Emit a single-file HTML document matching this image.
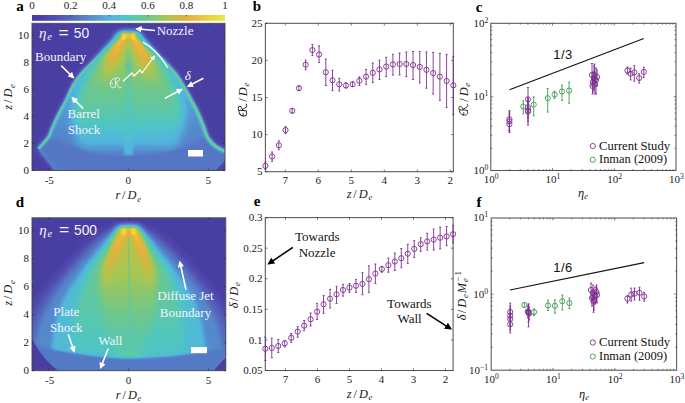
<!DOCTYPE html><html><head><meta charset="utf-8"><style>html,body{margin:0;padding:0;background:#fff;overflow:hidden}svg{display:block}</style></head><body>
<svg width="685" height="403" viewBox="0 0 685 403">
<defs>
<filter id="cm" x="0" y="0" width="1" height="1" color-interpolation-filters="sRGB"><feComponentTransfer><feFuncR type="table" tableValues="0.2784 0.2895 0.3005 0.3115 0.3186 0.3248 0.3309 0.3333 0.3333 0.3333 0.3319 0.3282 0.3245 0.3211 0.3186 0.3162 0.3137 0.3505 0.3873 0.4240 0.4902 0.5637 0.6373 0.7123 0.7882 0.8642 0.9113 0.9150 0.9186 0.9208 0.9172 0.9135 0.9098"/><feFuncG type="table" tableValues="0.2275 0.2483 0.2691 0.2900 0.3235 0.3603 0.3971 0.4375 0.4804 0.5233 0.5686 0.6176 0.6667 0.7108 0.7353 0.7598 0.7843 0.7843 0.7843 0.7843 0.7843 0.7843 0.7843 0.7659 0.7353 0.7047 0.7010 0.7377 0.7745 0.8113 0.8480 0.8848 0.9216"/><feFuncB type="table" tableValues="0.6196 0.6404 0.6613 0.6821 0.7010 0.7194 0.7377 0.7561 0.7745 0.7929 0.8137 0.8382 0.8627 0.8738 0.8309 0.7880 0.7451 0.6838 0.6225 0.5613 0.4902 0.4167 0.3431 0.2990 0.2745 0.2500 0.2353 0.2353 0.2353 0.2353 0.2353 0.2353 0.2353"/></feComponentTransfer></filter>
<filter id="b1" filterUnits="userSpaceOnUse" x="0" y="0" width="685" height="403"><feGaussianBlur stdDeviation="1"/></filter>
<filter id="b2" filterUnits="userSpaceOnUse" x="0" y="0" width="685" height="403"><feGaussianBlur stdDeviation="2"/></filter>
<filter id="b3" filterUnits="userSpaceOnUse" x="0" y="0" width="685" height="403"><feGaussianBlur stdDeviation="3"/></filter>
<filter id="b5" filterUnits="userSpaceOnUse" x="0" y="0" width="685" height="403"><feGaussianBlur stdDeviation="5"/></filter>
<linearGradient id="cbg" x1="0" x2="1" y1="0" y2="0"><stop offset="0" stop-color="#000"/><stop offset="1" stop-color="#fff"/></linearGradient>
<marker id="ah" viewBox="0 0 10 10" refX="8" refY="5" markerWidth="4" markerHeight="4" orient="auto"><path d="M0,0 L10,5 L0,10 z" fill="#fff"/></marker>
<marker id="ahk" viewBox="0 0 10 10" refX="8" refY="5" markerWidth="4.5" markerHeight="4.5" orient="auto"><path d="M0,0 L10,5 L0,10 z" fill="#000"/></marker>
<clipPath id="clipa"><rect x="32" y="23.3" width="193" height="147.2"/></clipPath>
<clipPath id="clipd"><rect x="32" y="217.8" width="193.8" height="153"/></clipPath>
</defs>
<text x="20.00" y="11.00" font-family='"Liberation Serif", serif' font-size="15" text-anchor="middle" fill="#000" font-style="normal" font-weight="bold" >a</text>
<text x="257.00" y="11.00" font-family='"Liberation Serif", serif' font-size="15" text-anchor="middle" fill="#000" font-style="normal" font-weight="bold" >b</text>
<text x="479.00" y="11.70" font-family='"Liberation Serif", serif' font-size="15" text-anchor="middle" fill="#000" font-style="normal" font-weight="bold" >c</text>
<text x="20.00" y="206.90" font-family='"Liberation Serif", serif' font-size="15" text-anchor="middle" fill="#000" font-style="normal" font-weight="bold" >d</text>
<text x="257.00" y="206.20" font-family='"Liberation Serif", serif' font-size="15" text-anchor="middle" fill="#000" font-style="normal" font-weight="bold" >e</text>
<text x="479.00" y="206.90" font-family='"Liberation Serif", serif' font-size="15" text-anchor="middle" fill="#000" font-style="normal" font-weight="bold" >f</text>
<g filter="url(#cm)"><rect x="32" y="15" width="193" height="5.8" fill="url(#cbg)"/></g>
<text x="32.00" y="9.00" font-family='"Liberation Serif", serif' font-size="11" text-anchor="middle" fill="#1a1a1a" font-style="normal" font-weight="normal" >0</text>
<text x="70.60" y="9.00" font-family='"Liberation Serif", serif' font-size="11" text-anchor="middle" fill="#1a1a1a" font-style="normal" font-weight="normal" >0.2</text>
<line x1="70.60" y1="15" x2="70.60" y2="16.5" stroke="#262626" stroke-width="0.6"/>
<text x="109.20" y="9.00" font-family='"Liberation Serif", serif' font-size="11" text-anchor="middle" fill="#1a1a1a" font-style="normal" font-weight="normal" >0.4</text>
<line x1="109.20" y1="15" x2="109.20" y2="16.5" stroke="#262626" stroke-width="0.6"/>
<text x="147.80" y="9.00" font-family='"Liberation Serif", serif' font-size="11" text-anchor="middle" fill="#1a1a1a" font-style="normal" font-weight="normal" >0.6</text>
<line x1="147.80" y1="15" x2="147.80" y2="16.5" stroke="#262626" stroke-width="0.6"/>
<text x="186.40" y="9.00" font-family='"Liberation Serif", serif' font-size="11" text-anchor="middle" fill="#1a1a1a" font-style="normal" font-weight="normal" >0.8</text>
<line x1="186.40" y1="15" x2="186.40" y2="16.5" stroke="#262626" stroke-width="0.6"/>
<text x="225.00" y="9.00" font-family='"Liberation Serif", serif' font-size="11" text-anchor="middle" fill="#1a1a1a" font-style="normal" font-weight="normal" >1</text>
<g clip-path="url(#clipa)"><g filter="url(#cm)">
<rect x="32" y="23.3" width="193" height="147.2" fill="#080808"/>
<path d="M38.50,148.50 C39.33,147.58 41.83,144.92 43.50,143.00 C45.17,141.08 47.08,139.38 48.50,137.00 C49.92,134.62 50.77,131.57 52.00,128.70 C53.23,125.83 54.42,122.93 55.90,119.80 C57.38,116.67 59.17,113.22 60.90,109.90 C62.63,106.58 64.65,103.22 66.30,99.90 C67.95,96.58 69.10,93.32 70.80,90.00 C72.50,86.68 74.63,82.83 76.50,80.00 C78.37,77.17 79.83,75.42 82.00,73.00 C84.17,70.58 87.00,68.00 89.50,65.50 C92.00,63.00 93.83,61.17 97.00,58.00 C100.17,54.83 104.55,50.50 108.50,46.50 C112.45,42.50 118.67,36.08 120.70,34.00 L136.6,34C138.58,36.08 144.60,42.50 148.50,46.50 C152.40,50.50 156.83,54.83 160.00,58.00 C163.17,61.17 165.08,63.00 167.50,65.50 C169.92,68.00 172.50,70.58 174.50,73.00 C176.50,75.42 177.67,77.17 179.50,80.00 C181.33,82.83 183.60,86.68 185.50,90.00 C187.40,93.32 189.08,96.58 190.90,99.90 C192.72,103.22 194.75,106.58 196.40,109.90 C198.05,113.22 199.48,116.67 200.80,119.80 C202.12,122.93 203.27,125.92 204.30,128.70 C205.33,131.48 205.88,134.28 207.00,136.50 C208.12,138.72 209.50,140.33 211.00,142.00 C212.50,143.67 214.33,145.25 216.00,146.50 C217.67,147.75 219.33,148.67 221.00,149.50 C222.67,150.33 225.17,151.17 226.00,151.50 L228,151.5 L228,157 L210,175 L59,175 Z" fill="none" stroke="#1e1e1e" stroke-width="7" filter="url(#b2)"/>
<ellipse cx="128.7" cy="34" rx="15" ry="5" fill="#333333" filter="url(#b2)"/>
<linearGradient id="jg" gradientUnits="userSpaceOnUse" x1="0" y1="34" x2="0" y2="160"><stop offset="0" stop-color="#6b6b6b"/><stop offset="0.37" stop-color="#606060"/><stop offset="0.65" stop-color="#515151"/><stop offset="0.84" stop-color="#474747"/><stop offset="1" stop-color="#424242"/></linearGradient>
<path d="M38.50,148.50 C39.33,147.58 41.83,144.92 43.50,143.00 C45.17,141.08 47.08,139.38 48.50,137.00 C49.92,134.62 50.77,131.57 52.00,128.70 C53.23,125.83 54.42,122.93 55.90,119.80 C57.38,116.67 59.17,113.22 60.90,109.90 C62.63,106.58 64.65,103.22 66.30,99.90 C67.95,96.58 69.10,93.32 70.80,90.00 C72.50,86.68 74.63,82.83 76.50,80.00 C78.37,77.17 79.83,75.42 82.00,73.00 C84.17,70.58 87.00,68.00 89.50,65.50 C92.00,63.00 93.83,61.17 97.00,58.00 C100.17,54.83 104.55,50.50 108.50,46.50 C112.45,42.50 118.67,36.08 120.70,34.00 L136.6,34C138.58,36.08 144.60,42.50 148.50,46.50 C152.40,50.50 156.83,54.83 160.00,58.00 C163.17,61.17 165.08,63.00 167.50,65.50 C169.92,68.00 172.50,70.58 174.50,73.00 C176.50,75.42 177.67,77.17 179.50,80.00 C181.33,82.83 183.60,86.68 185.50,90.00 C187.40,93.32 189.08,96.58 190.90,99.90 C192.72,103.22 194.75,106.58 196.40,109.90 C198.05,113.22 199.48,116.67 200.80,119.80 C202.12,122.93 203.27,125.92 204.30,128.70 C205.33,131.48 205.88,134.28 207.00,136.50 C208.12,138.72 209.50,140.33 211.00,142.00 C212.50,143.67 214.33,145.25 216.00,146.50 C217.67,147.75 219.33,148.67 221.00,149.50 C222.67,150.33 225.17,151.17 226.00,151.50 L228,151.5 L228,157 L210,175 L59,175 Z" fill="url(#jg)"/>
<linearGradient id="cg" gradientUnits="userSpaceOnUse" x1="0" y1="34" x2="0" y2="150"><stop offset="0" stop-color="#bcbcbc"/><stop offset="0.22" stop-color="#a8a8a8"/><stop offset="0.48" stop-color="#999999"/><stop offset="0.66" stop-color="#8c8c8c"/><stop offset="0.83" stop-color="#757575"/><stop offset="1" stop-color="#606060"/></linearGradient>
<path d="M80.00,148.00 C79.17,145.00 76.17,135.50 75.00,130.00 C73.83,124.50 72.83,120.00 73.00,115.00 C73.17,110.00 74.50,104.83 76.00,100.00 C77.50,95.17 79.67,90.67 82.00,86.00 C84.33,81.33 86.83,76.67 90.00,72.00 C93.17,67.33 97.33,62.33 101.00,58.00 C104.67,53.67 108.50,49.83 112.00,46.00 C115.50,42.17 120.33,36.83 122.00,35.00 L135,35C136.67,36.83 141.50,42.17 145.00,46.00 C148.50,49.83 152.33,53.67 156.00,58.00 C159.67,62.33 163.83,67.33 167.00,72.00 C170.17,76.67 172.67,81.33 175.00,86.00 C177.33,90.67 179.50,95.17 181.00,100.00 C182.50,104.83 183.83,110.00 184.00,115.00 C184.17,120.00 183.17,124.50 182.00,130.00 C180.83,135.50 177.83,145.00 177.00,148.00 Z" fill="url(#cg)" filter="url(#b5)"/>
<linearGradient id="wg" gradientUnits="userSpaceOnUse" x1="0" y1="34" x2="0" y2="92"><stop offset="0" stop-color="#bcbcbc"/><stop offset="0.45" stop-color="#b2b2b2"/><stop offset="1" stop-color="#9e9e9e" stop-opacity="0"/></linearGradient>
<path d="M121,34 L136,34 L152,52 L161,75 L157,92 L100,92 L96,75 L105,52 Z" fill="url(#wg)" filter="url(#b3)"/>
<linearGradient id="lg" gradientUnits="userSpaceOnUse" x1="0" y1="34" x2="0" y2="85"><stop offset="0" stop-color="#e5e5e5"/><stop offset="0.35" stop-color="#d3d3d3"/><stop offset="1" stop-color="#bcbcbc" stop-opacity="0"/></linearGradient>
<path d="M121,34 L126,34 L119,55 L111,85 L101,85 L109,55 Z" fill="url(#lg)" filter="url(#b2)"/>
<path d="M131,34 L136,34 L148,55 L156,85 L146,85 L138,55 Z" fill="url(#lg)" filter="url(#b2)"/>
<linearGradient id="gw" gradientUnits="userSpaceOnUse" x1="0" y1="40" x2="0" y2="70"><stop offset="0" stop-color="#bcbcbc" stop-opacity="0"/><stop offset="0.3" stop-color="#a8a8a8"/><stop offset="1" stop-color="#919191"/></linearGradient>
<path d="M127.2,40 L130.2,40 L133,70 L124.4,70 Z" fill="url(#gw)" filter="url(#b1)"/>
<rect x="122" y="34" width="13.5" height="5" fill="#d6d6d6" filter="url(#b1)"/>
<path d="M121.2,33.6 L136.2,33.6 L136.2,35.5 L121.2,35.5 Z" fill="#dbdbdb"/>
<ellipse cx="123.8" cy="37" rx="2.3" ry="3.2" fill="#f7f7f7" filter="url(#b1)"/>
<ellipse cx="133.8" cy="37" rx="2.3" ry="3.2" fill="#f7f7f7" filter="url(#b1)"/>
<linearGradient id="sg" gradientUnits="userSpaceOnUse" x1="0" y1="62" x2="0" y2="156"><stop offset="0" stop-color="#8e8e8e"/><stop offset="0.25" stop-color="#878787"/><stop offset="1" stop-color="#727272"/></linearGradient>
<path d="M127,62 L130,62 L133,156 L124,156 Z" fill="url(#sg)" filter="url(#b1)" opacity="0.7"/>
<path d="M38.5,148.5 L43.5,143 L48.5,137 C60,141 80,150 100,155 C115,157 140,156 160,153 C180,150 195,144 207,136.5 L211,142 L216,146.5 L221,149.5 L228,151.5 L228,157 L210,175 L59,175 Z" fill="#3d3d3d" filter="url(#b1)"/>
<path d="M40,150 L58,172" stroke="#474747" stroke-width="3" filter="url(#b1)"/>
<path d="M120.70,34.00 C118.67,36.08 112.45,42.50 108.50,46.50 C104.55,50.50 100.17,54.83 97.00,58.00 C93.83,61.17 92.00,63.00 89.50,65.50 C87.00,68.00 84.17,70.58 82.00,73.00 C79.83,75.42 78.37,77.17 76.50,80.00 C74.63,82.83 72.50,86.68 70.80,90.00 C69.10,93.32 67.95,96.58 66.30,99.90 C64.65,103.22 62.63,106.58 60.90,109.90 C59.17,113.22 57.38,116.67 55.90,119.80 C54.42,122.93 53.23,125.83 52.00,128.70 C50.77,131.57 49.92,134.62 48.50,137.00 C47.08,139.38 45.17,141.08 43.50,143.00 C41.83,144.92 39.33,147.58 38.50,148.50" fill="none" stroke="#727272" stroke-width="3.2" filter="url(#b1)"/>
<path d="M136.60,34.00 C138.58,36.08 144.60,42.50 148.50,46.50 C152.40,50.50 156.83,54.83 160.00,58.00 C163.17,61.17 165.08,63.00 167.50,65.50 C169.92,68.00 172.50,70.58 174.50,73.00 C176.50,75.42 177.67,77.17 179.50,80.00 C181.33,82.83 183.60,86.68 185.50,90.00 C187.40,93.32 189.08,96.58 190.90,99.90 C192.72,103.22 194.75,106.58 196.40,109.90 C198.05,113.22 199.48,116.67 200.80,119.80 C202.12,122.93 203.27,125.92 204.30,128.70 C205.33,131.48 205.88,134.28 207.00,136.50 C208.12,138.72 209.50,140.33 211.00,142.00 C212.50,143.67 214.33,145.25 216.00,146.50 C217.67,147.75 219.33,148.67 221.00,149.50 C222.67,150.33 225.17,151.17 226.00,151.50" fill="none" stroke="#727272" stroke-width="4" filter="url(#b1)"/>
<linearGradient id="lfade" gradientUnits="userSpaceOnUse" x1="0" y1="40" x2="0" y2="60"><stop offset="0" stop-color="#fff" stop-opacity="0"/><stop offset="1" stop-color="#fff" stop-opacity="1"/></linearGradient>
<mask id="lmask"><rect x="0" y="0" width="685" height="403" fill="url(#lfade)"/></mask>
<g mask="url(#lmask)"><path d="M120.70,34.00 C118.67,36.08 112.45,42.50 108.50,46.50 C104.55,50.50 100.17,54.83 97.00,58.00 C93.83,61.17 92.00,63.00 89.50,65.50 C87.00,68.00 84.17,70.58 82.00,73.00 C79.83,75.42 78.37,77.17 76.50,80.00 C74.63,82.83 72.50,86.68 70.80,90.00 C69.10,93.32 67.95,96.58 66.30,99.90 C64.65,103.22 62.63,106.58 60.90,109.90 C59.17,113.22 57.38,116.67 55.90,119.80 C54.42,122.93 53.23,125.83 52.00,128.70 C50.77,131.57 49.92,134.62 48.50,137.00 C47.08,139.38 45.17,141.08 43.50,143.00 C41.83,144.92 39.33,147.58 38.50,148.50" fill="none" stroke="#999999" stroke-width="1.7"/>
<path d="M136.60,34.00 C138.58,36.08 144.60,42.50 148.50,46.50 C152.40,50.50 156.83,54.83 160.00,58.00 C163.17,61.17 165.08,63.00 167.50,65.50 C169.92,68.00 172.50,70.58 174.50,73.00 C176.50,75.42 177.67,77.17 179.50,80.00 C181.33,82.83 183.60,86.68 185.50,90.00 C187.40,93.32 189.08,96.58 190.90,99.90 C192.72,103.22 194.75,106.58 196.40,109.90 C198.05,113.22 199.48,116.67 200.80,119.80 C202.12,122.93 203.27,125.92 204.30,128.70 C205.33,131.48 205.88,134.28 207.00,136.50 C208.12,138.72 209.50,140.33 211.00,142.00 C212.50,143.67 214.33,145.25 216.00,146.50 C217.67,147.75 219.33,148.67 221.00,149.50 C222.67,150.33 225.17,151.17 226.00,151.50" fill="none" stroke="#999999" stroke-width="2.3"/></g>
</g></g>
<g clip-path="url(#clipd)"><g filter="url(#cm)">
<rect x="32" y="217.8" width="193.8" height="153" fill="#080808"/>
<ellipse cx="128.7" cy="228.5" rx="16" ry="5" fill="#333333" filter="url(#b2)"/>
<filter id="b6" filterUnits="userSpaceOnUse" x="0" y="0" width="685" height="403"><feGaussianBlur stdDeviation="6"/></filter>
<filter id="b4" filterUnits="userSpaceOnUse" x="0" y="0" width="685" height="403"><feGaussianBlur stdDeviation="4"/></filter>
<path d="M10.60,380.00 C12.77,371.67 18.93,343.33 23.60,330.00 C28.27,316.67 33.10,308.75 38.60,300.00 C44.10,291.25 49.93,285.42 56.60,277.50 C63.27,269.58 71.60,259.58 78.60,252.50 C85.60,245.42 92.27,239.42 98.60,235.00 C104.93,230.58 113.60,227.50 116.60,226.00 L140.6,226C143.60,227.50 152.27,230.58 158.60,235.00 C164.93,239.42 171.60,245.42 178.60,252.50 C185.60,259.58 193.93,269.58 200.60,277.50 C207.27,285.42 213.10,291.25 218.60,300.00 C224.10,308.75 228.93,316.67 233.60,330.00 C238.27,343.33 244.43,371.67 246.60,380.00 L246.6,380 L10.599999999999994,380 Z" fill="#2b2b2b" filter="url(#b4)"/>
<path d="M28.60,380.00 C29.93,371.67 32.93,343.33 36.60,330.00 C40.27,316.67 45.60,308.75 50.60,300.00 C55.60,291.25 60.27,285.42 66.60,277.50 C72.93,269.58 81.93,259.58 88.60,252.50 C95.27,245.42 101.52,239.25 106.60,235.00 C111.68,230.75 117.02,228.33 119.10,227.00 L138.1,227C140.18,228.33 145.52,230.75 150.60,235.00 C155.68,239.25 161.93,245.42 168.60,252.50 C175.27,259.58 184.27,269.58 190.60,277.50 C196.93,285.42 201.60,291.25 206.60,300.00 C211.60,308.75 216.93,316.67 220.60,330.00 C224.27,343.33 227.27,371.67 228.60,380.00 L228.6,380 L28.599999999999994,380 Z" fill="#4c4c4c" filter="url(#b3)"/>
<path d="M48.60,380.00 C49.60,371.67 52.10,343.33 54.60,330.00 C57.10,316.67 58.85,310.00 63.60,300.00 C68.35,290.00 77.52,277.92 83.10,270.00 C88.68,262.08 92.28,258.33 97.10,252.50 C101.92,246.67 108.17,239.08 112.00,235.00 C115.83,230.92 118.75,229.17 120.10,228.00 L137.1,228C138.45,229.17 141.37,230.92 145.20,235.00 C149.03,239.08 155.28,246.67 160.10,252.50 C164.92,258.33 168.52,262.08 174.10,270.00 C179.68,277.92 188.85,290.00 193.60,300.00 C198.35,310.00 200.10,316.67 202.60,330.00 C205.10,343.33 207.60,371.67 208.60,380.00 L208.6,380 L48.599999999999994,380 Z" fill="#707070" filter="url(#b2)"/>
<linearGradient id="dg" gradientUnits="userSpaceOnUse" x1="0" y1="228" x2="0" y2="370"><stop offset="0" stop-color="#9e9e9e"/><stop offset="0.5" stop-color="#8e8e8e"/><stop offset="0.8" stop-color="#7f7f7f"/><stop offset="1" stop-color="#707070"/></linearGradient>
<path d="M76.60,380.00 C76.10,371.67 73.27,343.33 73.60,330.00 C73.93,316.67 75.70,310.00 78.60,300.00 C81.50,290.00 87.00,277.92 91.00,270.00 C95.00,262.08 98.67,258.33 102.60,252.50 C106.53,246.67 111.60,239.08 114.60,235.00 C117.60,230.92 119.60,229.17 120.60,228.00 L136.6,228C137.60,229.17 139.60,230.92 142.60,235.00 C145.60,239.08 150.67,246.67 154.60,252.50 C158.53,258.33 162.20,262.08 166.20,270.00 C170.20,277.92 175.70,290.00 178.60,300.00 C181.50,310.00 183.27,316.67 183.60,330.00 C183.93,343.33 181.10,371.67 180.60,380.00 L180.6,380 L76.6,380 Z" fill="url(#dg)" filter="url(#b3)"/>
<linearGradient id="dy" gradientUnits="userSpaceOnUse" x1="0" y1="228" x2="0" y2="340"><stop offset="0" stop-color="#c1c1c1"/><stop offset="0.4" stop-color="#b2b2b2"/><stop offset="0.7" stop-color="#9e9e9e"/><stop offset="1" stop-color="#898989"/></linearGradient>
<path d="M114.60,345.00 C113.27,342.50 108.93,337.50 106.60,330.00 C104.27,322.50 101.43,310.00 100.60,300.00 C99.77,290.00 100.10,277.92 101.60,270.00 C103.10,262.08 106.98,258.33 109.60,252.50 C112.22,246.67 115.47,239.08 117.30,235.00 C119.13,230.92 120.05,229.17 120.60,228.00 L136.6,228C137.15,229.17 138.07,230.92 139.90,235.00 C141.73,239.08 144.98,246.67 147.60,252.50 C150.22,258.33 154.10,262.08 155.60,270.00 C157.10,277.92 157.43,290.00 156.60,300.00 C155.77,310.00 152.93,322.50 150.60,330.00 C148.27,337.50 143.93,342.50 142.60,345.00 L142.6,380 L114.6,380 Z" fill="url(#dy)" filter="url(#b3)"/>
<linearGradient id="dl" gradientUnits="userSpaceOnUse" x1="0" y1="228" x2="0" y2="290"><stop offset="0" stop-color="#e5e5e5"/><stop offset="0.35" stop-color="#d1d1d1"/><stop offset="1" stop-color="#bcbcbc" stop-opacity="0"/></linearGradient>
<path d="M121.5,229 L126.5,229 L117,258 L108,290 L97,290 L107,258 Z" fill="url(#dl)" filter="url(#b2)"/>
<path d="M131,229 L136,229 L150,258 L160,290 L149,290 L140,258 Z" fill="url(#dl)" filter="url(#b2)"/>
<rect x="121.2" y="228.4" width="15.2" height="2" fill="#dbdbdb"/>
<ellipse cx="124" cy="232" rx="2.5" ry="3.5" fill="#f4f4f4" filter="url(#b1)"/>
<ellipse cx="133.5" cy="232" rx="2.5" ry="3.5" fill="#f4f4f4" filter="url(#b1)"/>
<path d="M128.6,238 C128.9,270 129.8,300 130.5,340" fill="none" stroke="#7f7f7f" stroke-width="1.1" opacity="0.6"/>
<path d="M28,342 C50,351 100,358 130,358 C165,358 200,353 230,347 L230,375 L28,375 Z" fill="#3f3f3f" filter="url(#b1)"/>
<path d="M26,338 L32,339.3 C36,346 42,356 48.8,362.5 C52,366 56,369 59.5,372 L26,375 Z" fill="#080808"/>
<path d="M230,358 L224,359 L210,375 L230,375 Z" fill="#080808"/>
</g></g>
<rect x="32" y="23.3" width="193" height="147.2" fill="none" stroke="#444" stroke-width="0.9"/>
<line x1="32" y1="170.50" x2="34" y2="170.50" stroke="#262626" stroke-width="0.6"/>
<line x1="225" y1="170.50" x2="223" y2="170.50" stroke="#262626" stroke-width="0.6"/>
<line x1="32" y1="143.50" x2="34" y2="143.50" stroke="#262626" stroke-width="0.6"/>
<line x1="225" y1="143.50" x2="223" y2="143.50" stroke="#262626" stroke-width="0.6"/>
<line x1="32" y1="116.50" x2="34" y2="116.50" stroke="#262626" stroke-width="0.6"/>
<line x1="225" y1="116.50" x2="223" y2="116.50" stroke="#262626" stroke-width="0.6"/>
<line x1="32" y1="89.50" x2="34" y2="89.50" stroke="#262626" stroke-width="0.6"/>
<line x1="225" y1="89.50" x2="223" y2="89.50" stroke="#262626" stroke-width="0.6"/>
<line x1="32" y1="62.50" x2="34" y2="62.50" stroke="#262626" stroke-width="0.6"/>
<line x1="225" y1="62.50" x2="223" y2="62.50" stroke="#262626" stroke-width="0.6"/>
<line x1="32" y1="35.50" x2="34" y2="35.50" stroke="#262626" stroke-width="0.6"/>
<line x1="225" y1="35.50" x2="223" y2="35.50" stroke="#262626" stroke-width="0.6"/>
<line x1="48.30" y1="170.5" x2="48.30" y2="168.5" stroke="#262626" stroke-width="0.6"/>
<line x1="48.30" y1="23.3" x2="48.30" y2="25.3" stroke="#262626" stroke-width="0.6"/>
<line x1="128.30" y1="170.5" x2="128.30" y2="168.5" stroke="#262626" stroke-width="0.6"/>
<line x1="128.30" y1="23.3" x2="128.30" y2="25.3" stroke="#262626" stroke-width="0.6"/>
<line x1="208.30" y1="170.5" x2="208.30" y2="168.5" stroke="#262626" stroke-width="0.6"/>
<line x1="208.30" y1="23.3" x2="208.30" y2="25.3" stroke="#262626" stroke-width="0.6"/>
<text x="29.00" y="174.20" font-family='"Liberation Serif", serif' font-size="11" text-anchor="end" fill="#1a1a1a" font-style="normal" font-weight="normal" >0</text>
<text x="29.00" y="147.20" font-family='"Liberation Serif", serif' font-size="11" text-anchor="end" fill="#1a1a1a" font-style="normal" font-weight="normal" >2</text>
<text x="29.00" y="120.20" font-family='"Liberation Serif", serif' font-size="11" text-anchor="end" fill="#1a1a1a" font-style="normal" font-weight="normal" >4</text>
<text x="29.00" y="93.20" font-family='"Liberation Serif", serif' font-size="11" text-anchor="end" fill="#1a1a1a" font-style="normal" font-weight="normal" >6</text>
<text x="29.00" y="66.20" font-family='"Liberation Serif", serif' font-size="11" text-anchor="end" fill="#1a1a1a" font-style="normal" font-weight="normal" >8</text>
<text x="29.00" y="39.20" font-family='"Liberation Serif", serif' font-size="11" text-anchor="end" fill="#1a1a1a" font-style="normal" font-weight="normal" >10</text>
<text x="49.30" y="183.90" font-family='"Liberation Serif", serif' font-size="11" text-anchor="middle" fill="#1a1a1a" font-style="normal" font-weight="normal" >-5</text>
<text x="128.30" y="183.90" font-family='"Liberation Serif", serif' font-size="11" text-anchor="middle" fill="#1a1a1a" font-style="normal" font-weight="normal" >0</text>
<text x="208.30" y="183.90" font-family='"Liberation Serif", serif' font-size="11" text-anchor="middle" fill="#1a1a1a" font-style="normal" font-weight="normal" >5</text>
<rect x="32" y="217.8" width="193.8" height="152.89999999999998" fill="none" stroke="#444" stroke-width="0.9"/>
<line x1="32" y1="370.70" x2="34" y2="370.70" stroke="#262626" stroke-width="0.6"/>
<line x1="225.8" y1="370.70" x2="223.8" y2="370.70" stroke="#262626" stroke-width="0.6"/>
<line x1="32" y1="342.70" x2="34" y2="342.70" stroke="#262626" stroke-width="0.6"/>
<line x1="225.8" y1="342.70" x2="223.8" y2="342.70" stroke="#262626" stroke-width="0.6"/>
<line x1="32" y1="314.70" x2="34" y2="314.70" stroke="#262626" stroke-width="0.6"/>
<line x1="225.8" y1="314.70" x2="223.8" y2="314.70" stroke="#262626" stroke-width="0.6"/>
<line x1="32" y1="286.70" x2="34" y2="286.70" stroke="#262626" stroke-width="0.6"/>
<line x1="225.8" y1="286.70" x2="223.8" y2="286.70" stroke="#262626" stroke-width="0.6"/>
<line x1="32" y1="258.70" x2="34" y2="258.70" stroke="#262626" stroke-width="0.6"/>
<line x1="225.8" y1="258.70" x2="223.8" y2="258.70" stroke="#262626" stroke-width="0.6"/>
<line x1="32" y1="230.70" x2="34" y2="230.70" stroke="#262626" stroke-width="0.6"/>
<line x1="225.8" y1="230.70" x2="223.8" y2="230.70" stroke="#262626" stroke-width="0.6"/>
<line x1="48.60" y1="370.7" x2="48.60" y2="368.7" stroke="#262626" stroke-width="0.6"/>
<line x1="48.60" y1="217.8" x2="48.60" y2="219.8" stroke="#262626" stroke-width="0.6"/>
<line x1="128.60" y1="370.7" x2="128.60" y2="368.7" stroke="#262626" stroke-width="0.6"/>
<line x1="128.60" y1="217.8" x2="128.60" y2="219.8" stroke="#262626" stroke-width="0.6"/>
<line x1="208.60" y1="370.7" x2="208.60" y2="368.7" stroke="#262626" stroke-width="0.6"/>
<line x1="208.60" y1="217.8" x2="208.60" y2="219.8" stroke="#262626" stroke-width="0.6"/>
<text x="29.00" y="374.40" font-family='"Liberation Serif", serif' font-size="11" text-anchor="end" fill="#1a1a1a" font-style="normal" font-weight="normal" >0</text>
<text x="29.00" y="346.40" font-family='"Liberation Serif", serif' font-size="11" text-anchor="end" fill="#1a1a1a" font-style="normal" font-weight="normal" >2</text>
<text x="29.00" y="318.40" font-family='"Liberation Serif", serif' font-size="11" text-anchor="end" fill="#1a1a1a" font-style="normal" font-weight="normal" >4</text>
<text x="29.00" y="290.40" font-family='"Liberation Serif", serif' font-size="11" text-anchor="end" fill="#1a1a1a" font-style="normal" font-weight="normal" >6</text>
<text x="29.00" y="262.40" font-family='"Liberation Serif", serif' font-size="11" text-anchor="end" fill="#1a1a1a" font-style="normal" font-weight="normal" >8</text>
<text x="29.00" y="234.40" font-family='"Liberation Serif", serif' font-size="11" text-anchor="end" fill="#1a1a1a" font-style="normal" font-weight="normal" >10</text>
<text x="49.60" y="383.90" font-family='"Liberation Serif", serif' font-size="11" text-anchor="middle" fill="#1a1a1a" font-style="normal" font-weight="normal" >-5</text>
<text x="128.60" y="383.90" font-family='"Liberation Serif", serif' font-size="11" text-anchor="middle" fill="#1a1a1a" font-style="normal" font-weight="normal" >0</text>
<text x="208.60" y="383.90" font-family='"Liberation Serif", serif' font-size="11" text-anchor="middle" fill="#1a1a1a" font-style="normal" font-weight="normal" >5</text>
<g transform="translate(128.10,199.30) rotate(0)">
<text x="-10.26" y="0.00" font-family='"Liberation Serif", serif' font-size="12.40" font-style="italic" text-anchor="middle" fill="#1a1a1a">r</text>
<text x="-4.36" y="0.00" font-family='"Liberation Serif", serif' font-size="12.40" font-style="normal" text-anchor="middle" fill="#1a1a1a">/</text>
<text x="3.87" y="0.00" font-family='"Liberation Serif", serif' font-size="12.40" font-style="italic" text-anchor="middle" fill="#1a1a1a">D</text>
<text x="11.03" y="2.48" font-family='"Liberation Serif", serif' font-size="8.68" font-style="italic" text-anchor="middle" fill="#1a1a1a">e</text>
</g>
<g transform="translate(128.50,398.80) rotate(0)">
<text x="-10.26" y="0.00" font-family='"Liberation Serif", serif' font-size="12.40" font-style="italic" text-anchor="middle" fill="#1a1a1a">r</text>
<text x="-4.36" y="0.00" font-family='"Liberation Serif", serif' font-size="12.40" font-style="normal" text-anchor="middle" fill="#1a1a1a">/</text>
<text x="3.87" y="0.00" font-family='"Liberation Serif", serif' font-size="12.40" font-style="italic" text-anchor="middle" fill="#1a1a1a">D</text>
<text x="11.03" y="2.48" font-family='"Liberation Serif", serif' font-size="8.68" font-style="italic" text-anchor="middle" fill="#1a1a1a">e</text>
</g>
<g transform="translate(12.30,97.10) rotate(-90)">
<text x="-10.26" y="0.00" font-family='"Liberation Serif", serif' font-size="12.40" font-style="italic" text-anchor="middle" fill="#1a1a1a">z</text>
<text x="-4.27" y="0.00" font-family='"Liberation Serif", serif' font-size="12.40" font-style="normal" text-anchor="middle" fill="#1a1a1a">/</text>
<text x="3.96" y="0.00" font-family='"Liberation Serif", serif' font-size="12.40" font-style="italic" text-anchor="middle" fill="#1a1a1a">D</text>
<text x="11.12" y="2.48" font-family='"Liberation Serif", serif' font-size="8.68" font-style="italic" text-anchor="middle" fill="#1a1a1a">e</text>
</g>
<g transform="translate(12.10,293.20) rotate(-90)">
<text x="-10.26" y="0.00" font-family='"Liberation Serif", serif' font-size="12.40" font-style="italic" text-anchor="middle" fill="#1a1a1a">z</text>
<text x="-4.27" y="0.00" font-family='"Liberation Serif", serif' font-size="12.40" font-style="normal" text-anchor="middle" fill="#1a1a1a">/</text>
<text x="3.96" y="0.00" font-family='"Liberation Serif", serif' font-size="12.40" font-style="italic" text-anchor="middle" fill="#1a1a1a">D</text>
<text x="11.12" y="2.48" font-family='"Liberation Serif", serif' font-size="8.68" font-style="italic" text-anchor="middle" fill="#1a1a1a">e</text>
</g>
<text x="39.0" y="37.6" font-family='"Liberation Serif", serif' font-size="15" font-style="italic" fill="#f4f2fa">η</text>
<text x="47.3" y="39.9" font-family='"Liberation Serif", serif' font-size="10.5" font-style="italic" fill="#f4f2fa">e</text>
<text x="58.6" y="37.6" font-family='"Liberation Sans", sans-serif' font-size="14" fill="#f4f2fa" transform="translate(58.6,0) scale(1.25,1) translate(-58.6,0)">=</text>
<text x="73.8" y="37.6" font-family='"Liberation Sans", sans-serif' font-size="13.8" fill="#f4f2fa">50</text>
<text x="35.00" y="60.50" font-family='"Liberation Serif", serif' font-size="13" text-anchor="start" fill="#f4f2fa" font-style="normal" font-weight="normal" >Boundary</text>
<text x="67.50" y="118.20" font-family='"Liberation Serif", serif' font-size="13" text-anchor="start" fill="#f4f2fa" font-style="normal" font-weight="normal" >Barrel</text>
<text x="67.70" y="134.30" font-family='"Liberation Serif", serif' font-size="13" text-anchor="start" fill="#f4f2fa" font-style="normal" font-weight="normal" >Shock</text>
<text x="156.70" y="34.80" font-family='"Liberation Serif", serif' font-size="13" text-anchor="start" fill="#f4f2fa" font-style="normal" font-weight="normal" >Nozzle</text>
<text x="187.7" y="79.5" font-family='"Liberation Serif", serif' font-size="13" font-style="italic" fill="#f4f2fa" text-anchor="middle">δ</text>
<path d="M4.9,0.9 C2.6,1.2 0.9,3.0 0.4,5.4 C0.1,7.2 0.4,9.0 1.4,9.9 C2.2,10.6 3.3,10.5 4.2,9.9 M0.5,5.5 C1.2,6.0 2.0,6.2 2.8,6.0 M5.6,1.0 C5.8,4.0 5.6,7.0 5.1,10.1 M5.6,1.0 C6.3,0.1 8.1,-0.1 9.0,0.8 C9.7,1.7 9.3,3.1 8.3,3.9 C7.6,4.5 6.9,4.9 6.3,5.1 M6.3,5.1 C7.2,6.5 7.8,8.5 8.6,9.7 C9.3,10.7 10.5,10.8 11.6,9.7" transform="translate(110.00,77.40) scale(1.000,1.000)" fill="none" stroke="#f4f2fa" stroke-width="0.90" stroke-linecap="round"/>
<line x1="61.2" y1="65.6" x2="73.5" y2="77.7" stroke="#fff" stroke-width="1.6" marker-end="url(#ah)"/>
<line x1="83.2" y1="108.6" x2="72.2" y2="97.6" stroke="#fff" stroke-width="1.6" marker-end="url(#ah)"/>
<line x1="155" y1="30.5" x2="136.5" y2="28.8" stroke="#fff" stroke-width="1.6" marker-end="url(#ah)"/>
<line x1="203.4" y1="78.3" x2="188" y2="86.3" stroke="#fff" stroke-width="1.6" marker-end="url(#ah)"/>
<line x1="164.8" y1="98.4" x2="181.8" y2="89.4" stroke="#fff" stroke-width="1.6" marker-end="url(#ah)"/>
<path d="M142.9,42.1 C152,47 161,56 167.7,67.8" fill="none" stroke="#fff" stroke-width="1.2"/>
<path d="M122.9,81.2 L132,73 L134,76 L140,70 L142,73 L154.5,56" fill="none" stroke="#fff" stroke-width="1.2" marker-end="url(#ah)"/>
<rect x="188" y="150" width="15" height="6.5" fill="#fff"/>
<text x="39.3" y="234.9" font-family='"Liberation Serif", serif' font-size="15" font-style="italic" fill="#f4f2fa">η</text>
<text x="47.599999999999994" y="237.20000000000002" font-family='"Liberation Serif", serif' font-size="10.5" font-style="italic" fill="#f4f2fa">e</text>
<text x="58.9" y="234.9" font-family='"Liberation Sans", sans-serif' font-size="14" fill="#f4f2fa" transform="translate(58.9,0) scale(1.25,1) translate(-58.9,0)">=</text>
<text x="74.0" y="234.9" font-family='"Liberation Sans", sans-serif' font-size="13.8" fill="#f4f2fa">500</text>
<text x="185.50" y="300.20" font-family='"Liberation Serif", serif' font-size="13" text-anchor="middle" fill="#f4f2fa" font-style="normal" font-weight="normal" >Diffuse Jet</text>
<text x="185.50" y="316.50" font-family='"Liberation Serif", serif' font-size="13" text-anchor="middle" fill="#f4f2fa" font-style="normal" font-weight="normal" >Boundary</text>
<text x="66.30" y="316.00" font-family='"Liberation Serif", serif' font-size="13" text-anchor="middle" fill="#f4f2fa" font-style="normal" font-weight="normal" >Plate</text>
<text x="66.20" y="331.70" font-family='"Liberation Serif", serif' font-size="13" text-anchor="middle" fill="#f4f2fa" font-style="normal" font-weight="normal" >Shock</text>
<text x="110.30" y="344.90" font-family='"Liberation Serif", serif' font-size="13" text-anchor="middle" fill="#f4f2fa" font-style="normal" font-weight="normal" >Wall</text>
<line x1="186" y1="289.5" x2="179.8" y2="262" stroke="#fff" stroke-width="1.6" marker-end="url(#ah)"/>
<line x1="68.2" y1="334.3" x2="74.2" y2="351.5" stroke="#fff" stroke-width="1.6" marker-end="url(#ah)"/>
<line x1="108.2" y1="348.6" x2="100.6" y2="367.8" stroke="#fff" stroke-width="1.6" marker-end="url(#ah)"/>
<rect x="191" y="347" width="16" height="6.2" fill="#fff"/>
<rect x="265.4" y="23.3" width="187.90000000000003" height="148.39999999999998" fill="none" stroke="#555" stroke-width="1.05"/>
<line x1="450.30" y1="171.7" x2="450.30" y2="169.5" stroke="#262626" stroke-width="0.6"/>
<line x1="450.30" y1="23.3" x2="450.30" y2="25.5" stroke="#262626" stroke-width="0.6"/>
<text x="450.30" y="183.80" font-family='"Liberation Serif", serif' font-size="11" text-anchor="middle" fill="#1a1a1a" font-style="normal" font-weight="normal" >2</text>
<line x1="417.30" y1="171.7" x2="417.30" y2="169.5" stroke="#262626" stroke-width="0.6"/>
<line x1="417.30" y1="23.3" x2="417.30" y2="25.5" stroke="#262626" stroke-width="0.6"/>
<text x="417.30" y="183.80" font-family='"Liberation Serif", serif' font-size="11" text-anchor="middle" fill="#1a1a1a" font-style="normal" font-weight="normal" >3</text>
<line x1="384.30" y1="171.7" x2="384.30" y2="169.5" stroke="#262626" stroke-width="0.6"/>
<line x1="384.30" y1="23.3" x2="384.30" y2="25.5" stroke="#262626" stroke-width="0.6"/>
<text x="384.30" y="183.80" font-family='"Liberation Serif", serif' font-size="11" text-anchor="middle" fill="#1a1a1a" font-style="normal" font-weight="normal" >4</text>
<line x1="351.30" y1="171.7" x2="351.30" y2="169.5" stroke="#262626" stroke-width="0.6"/>
<line x1="351.30" y1="23.3" x2="351.30" y2="25.5" stroke="#262626" stroke-width="0.6"/>
<text x="351.30" y="183.80" font-family='"Liberation Serif", serif' font-size="11" text-anchor="middle" fill="#1a1a1a" font-style="normal" font-weight="normal" >5</text>
<line x1="318.30" y1="171.7" x2="318.30" y2="169.5" stroke="#262626" stroke-width="0.6"/>
<line x1="318.30" y1="23.3" x2="318.30" y2="25.5" stroke="#262626" stroke-width="0.6"/>
<text x="318.30" y="183.80" font-family='"Liberation Serif", serif' font-size="11" text-anchor="middle" fill="#1a1a1a" font-style="normal" font-weight="normal" >6</text>
<line x1="285.30" y1="171.7" x2="285.30" y2="169.5" stroke="#262626" stroke-width="0.6"/>
<line x1="285.30" y1="23.3" x2="285.30" y2="25.5" stroke="#262626" stroke-width="0.6"/>
<text x="285.30" y="183.80" font-family='"Liberation Serif", serif' font-size="11" text-anchor="middle" fill="#1a1a1a" font-style="normal" font-weight="normal" >7</text>
<line x1="265.4" y1="171.70" x2="267.59999999999997" y2="171.70" stroke="#262626" stroke-width="0.6"/>
<line x1="453.3" y1="171.70" x2="451.1" y2="171.70" stroke="#262626" stroke-width="0.6"/>
<text x="262.50" y="175.40" font-family='"Liberation Serif", serif' font-size="11" text-anchor="end" fill="#1a1a1a" font-style="normal" font-weight="normal" >5</text>
<line x1="265.4" y1="134.60" x2="267.59999999999997" y2="134.60" stroke="#262626" stroke-width="0.6"/>
<line x1="453.3" y1="134.60" x2="451.1" y2="134.60" stroke="#262626" stroke-width="0.6"/>
<text x="262.50" y="138.30" font-family='"Liberation Serif", serif' font-size="11" text-anchor="end" fill="#1a1a1a" font-style="normal" font-weight="normal" >10</text>
<line x1="265.4" y1="97.50" x2="267.59999999999997" y2="97.50" stroke="#262626" stroke-width="0.6"/>
<line x1="453.3" y1="97.50" x2="451.1" y2="97.50" stroke="#262626" stroke-width="0.6"/>
<text x="262.50" y="101.20" font-family='"Liberation Serif", serif' font-size="11" text-anchor="end" fill="#1a1a1a" font-style="normal" font-weight="normal" >15</text>
<line x1="265.4" y1="60.40" x2="267.59999999999997" y2="60.40" stroke="#262626" stroke-width="0.6"/>
<line x1="453.3" y1="60.40" x2="451.1" y2="60.40" stroke="#262626" stroke-width="0.6"/>
<text x="262.50" y="64.10" font-family='"Liberation Serif", serif' font-size="11" text-anchor="end" fill="#1a1a1a" font-style="normal" font-weight="normal" >20</text>
<line x1="265.4" y1="23.30" x2="267.59999999999997" y2="23.30" stroke="#262626" stroke-width="0.6"/>
<line x1="453.3" y1="23.30" x2="451.1" y2="23.30" stroke="#262626" stroke-width="0.6"/>
<text x="262.50" y="27.00" font-family='"Liberation Serif", serif' font-size="11" text-anchor="end" fill="#1a1a1a" font-style="normal" font-weight="normal" >25</text>
<line x1="265.40" y1="162.00" x2="265.40" y2="169.10" stroke="#7e2f8e" stroke-width="0.9"/>
<line x1="264.40" y1="162.00" x2="266.40" y2="162.00" stroke="#7e2f8e" stroke-width="0.9"/>
<line x1="264.40" y1="169.10" x2="266.40" y2="169.10" stroke="#7e2f8e" stroke-width="0.9"/>
<circle cx="265.40" cy="165.90" r="2.6" fill="none" stroke="#7e2f8e" stroke-width="0.9"/>
<line x1="272.11" y1="152.00" x2="272.11" y2="161.40" stroke="#7e2f8e" stroke-width="0.9"/>
<line x1="271.11" y1="152.00" x2="273.11" y2="152.00" stroke="#7e2f8e" stroke-width="0.9"/>
<line x1="271.11" y1="161.40" x2="273.11" y2="161.40" stroke="#7e2f8e" stroke-width="0.9"/>
<circle cx="272.11" cy="156.50" r="2.6" fill="none" stroke="#7e2f8e" stroke-width="0.9"/>
<line x1="278.82" y1="140.80" x2="278.82" y2="149.80" stroke="#7e2f8e" stroke-width="0.9"/>
<line x1="277.82" y1="140.80" x2="279.82" y2="140.80" stroke="#7e2f8e" stroke-width="0.9"/>
<line x1="277.82" y1="149.80" x2="279.82" y2="149.80" stroke="#7e2f8e" stroke-width="0.9"/>
<circle cx="278.82" cy="145.30" r="2.6" fill="none" stroke="#7e2f8e" stroke-width="0.9"/>
<line x1="285.53" y1="126.70" x2="285.53" y2="133.70" stroke="#7e2f8e" stroke-width="0.9"/>
<line x1="284.53" y1="126.70" x2="286.53" y2="126.70" stroke="#7e2f8e" stroke-width="0.9"/>
<line x1="284.53" y1="133.70" x2="286.53" y2="133.70" stroke="#7e2f8e" stroke-width="0.9"/>
<circle cx="285.53" cy="130.10" r="2.6" fill="none" stroke="#7e2f8e" stroke-width="0.9"/>
<line x1="292.24" y1="108.50" x2="292.24" y2="113.00" stroke="#7e2f8e" stroke-width="0.9"/>
<line x1="291.24" y1="108.50" x2="293.24" y2="108.50" stroke="#7e2f8e" stroke-width="0.9"/>
<line x1="291.24" y1="113.00" x2="293.24" y2="113.00" stroke="#7e2f8e" stroke-width="0.9"/>
<circle cx="292.24" cy="110.80" r="2.6" fill="none" stroke="#7e2f8e" stroke-width="0.9"/>
<line x1="298.95" y1="86.00" x2="298.95" y2="90.40" stroke="#7e2f8e" stroke-width="0.9"/>
<line x1="297.95" y1="86.00" x2="299.95" y2="86.00" stroke="#7e2f8e" stroke-width="0.9"/>
<line x1="297.95" y1="90.40" x2="299.95" y2="90.40" stroke="#7e2f8e" stroke-width="0.9"/>
<circle cx="298.95" cy="88.20" r="2.6" fill="none" stroke="#7e2f8e" stroke-width="0.9"/>
<line x1="305.66" y1="60.10" x2="305.66" y2="69.80" stroke="#7e2f8e" stroke-width="0.9"/>
<line x1="304.66" y1="60.10" x2="306.66" y2="60.10" stroke="#7e2f8e" stroke-width="0.9"/>
<line x1="304.66" y1="69.80" x2="306.66" y2="69.80" stroke="#7e2f8e" stroke-width="0.9"/>
<circle cx="305.66" cy="64.70" r="2.6" fill="none" stroke="#7e2f8e" stroke-width="0.9"/>
<line x1="312.38" y1="44.50" x2="312.38" y2="55.60" stroke="#7e2f8e" stroke-width="0.9"/>
<line x1="311.38" y1="44.50" x2="313.38" y2="44.50" stroke="#7e2f8e" stroke-width="0.9"/>
<line x1="311.38" y1="55.60" x2="313.38" y2="55.60" stroke="#7e2f8e" stroke-width="0.9"/>
<circle cx="312.38" cy="50.10" r="2.6" fill="none" stroke="#7e2f8e" stroke-width="0.9"/>
<line x1="319.09" y1="45.80" x2="319.09" y2="62.60" stroke="#7e2f8e" stroke-width="0.9"/>
<line x1="318.09" y1="45.80" x2="320.09" y2="45.80" stroke="#7e2f8e" stroke-width="0.9"/>
<line x1="318.09" y1="62.60" x2="320.09" y2="62.60" stroke="#7e2f8e" stroke-width="0.9"/>
<circle cx="319.09" cy="54.50" r="2.6" fill="none" stroke="#7e2f8e" stroke-width="0.9"/>
<line x1="325.80" y1="59.10" x2="325.80" y2="85.50" stroke="#7e2f8e" stroke-width="0.9"/>
<line x1="324.80" y1="59.10" x2="326.80" y2="59.10" stroke="#7e2f8e" stroke-width="0.9"/>
<line x1="324.80" y1="85.50" x2="326.80" y2="85.50" stroke="#7e2f8e" stroke-width="0.9"/>
<circle cx="325.80" cy="72.20" r="2.6" fill="none" stroke="#7e2f8e" stroke-width="0.9"/>
<line x1="332.51" y1="70.30" x2="332.51" y2="90.70" stroke="#7e2f8e" stroke-width="0.9"/>
<line x1="331.51" y1="70.30" x2="333.51" y2="70.30" stroke="#7e2f8e" stroke-width="0.9"/>
<line x1="331.51" y1="90.70" x2="333.51" y2="90.70" stroke="#7e2f8e" stroke-width="0.9"/>
<circle cx="332.51" cy="80.30" r="2.6" fill="none" stroke="#7e2f8e" stroke-width="0.9"/>
<line x1="339.22" y1="78.30" x2="339.22" y2="91.00" stroke="#7e2f8e" stroke-width="0.9"/>
<line x1="338.22" y1="78.30" x2="340.22" y2="78.30" stroke="#7e2f8e" stroke-width="0.9"/>
<line x1="338.22" y1="91.00" x2="340.22" y2="91.00" stroke="#7e2f8e" stroke-width="0.9"/>
<circle cx="339.22" cy="84.30" r="2.6" fill="none" stroke="#7e2f8e" stroke-width="0.9"/>
<line x1="345.93" y1="82.80" x2="345.93" y2="88.00" stroke="#7e2f8e" stroke-width="0.9"/>
<line x1="344.93" y1="82.80" x2="346.93" y2="82.80" stroke="#7e2f8e" stroke-width="0.9"/>
<line x1="344.93" y1="88.00" x2="346.93" y2="88.00" stroke="#7e2f8e" stroke-width="0.9"/>
<circle cx="345.93" cy="85.50" r="2.6" fill="none" stroke="#7e2f8e" stroke-width="0.9"/>
<line x1="352.64" y1="82.00" x2="352.64" y2="86.50" stroke="#7e2f8e" stroke-width="0.9"/>
<line x1="351.64" y1="82.00" x2="353.64" y2="82.00" stroke="#7e2f8e" stroke-width="0.9"/>
<line x1="351.64" y1="86.50" x2="353.64" y2="86.50" stroke="#7e2f8e" stroke-width="0.9"/>
<circle cx="352.64" cy="84.20" r="2.6" fill="none" stroke="#7e2f8e" stroke-width="0.9"/>
<line x1="359.35" y1="76.80" x2="359.35" y2="85.40" stroke="#7e2f8e" stroke-width="0.9"/>
<line x1="358.35" y1="76.80" x2="360.35" y2="76.80" stroke="#7e2f8e" stroke-width="0.9"/>
<line x1="358.35" y1="85.40" x2="360.35" y2="85.40" stroke="#7e2f8e" stroke-width="0.9"/>
<circle cx="359.35" cy="80.80" r="2.6" fill="none" stroke="#7e2f8e" stroke-width="0.9"/>
<line x1="366.06" y1="69.40" x2="366.06" y2="84.40" stroke="#7e2f8e" stroke-width="0.9"/>
<line x1="365.06" y1="69.40" x2="367.06" y2="69.40" stroke="#7e2f8e" stroke-width="0.9"/>
<line x1="365.06" y1="84.40" x2="367.06" y2="84.40" stroke="#7e2f8e" stroke-width="0.9"/>
<circle cx="366.06" cy="76.60" r="2.6" fill="none" stroke="#7e2f8e" stroke-width="0.9"/>
<line x1="372.77" y1="63.00" x2="372.77" y2="82.60" stroke="#7e2f8e" stroke-width="0.9"/>
<line x1="371.77" y1="63.00" x2="373.77" y2="63.00" stroke="#7e2f8e" stroke-width="0.9"/>
<line x1="371.77" y1="82.60" x2="373.77" y2="82.60" stroke="#7e2f8e" stroke-width="0.9"/>
<circle cx="372.77" cy="72.80" r="2.6" fill="none" stroke="#7e2f8e" stroke-width="0.9"/>
<line x1="379.48" y1="60.20" x2="379.48" y2="79.50" stroke="#7e2f8e" stroke-width="0.9"/>
<line x1="378.48" y1="60.20" x2="380.48" y2="60.20" stroke="#7e2f8e" stroke-width="0.9"/>
<line x1="378.48" y1="79.50" x2="380.48" y2="79.50" stroke="#7e2f8e" stroke-width="0.9"/>
<circle cx="379.48" cy="69.40" r="2.6" fill="none" stroke="#7e2f8e" stroke-width="0.9"/>
<line x1="386.19" y1="57.30" x2="386.19" y2="76.60" stroke="#7e2f8e" stroke-width="0.9"/>
<line x1="385.19" y1="57.30" x2="387.19" y2="57.30" stroke="#7e2f8e" stroke-width="0.9"/>
<line x1="385.19" y1="76.60" x2="387.19" y2="76.60" stroke="#7e2f8e" stroke-width="0.9"/>
<circle cx="386.19" cy="66.50" r="2.6" fill="none" stroke="#7e2f8e" stroke-width="0.9"/>
<line x1="392.90" y1="54.40" x2="392.90" y2="75.10" stroke="#7e2f8e" stroke-width="0.9"/>
<line x1="391.90" y1="54.40" x2="393.90" y2="54.40" stroke="#7e2f8e" stroke-width="0.9"/>
<line x1="391.90" y1="75.10" x2="393.90" y2="75.10" stroke="#7e2f8e" stroke-width="0.9"/>
<circle cx="392.90" cy="64.40" r="2.6" fill="none" stroke="#7e2f8e" stroke-width="0.9"/>
<line x1="399.61" y1="53.00" x2="399.61" y2="75.00" stroke="#7e2f8e" stroke-width="0.9"/>
<line x1="398.61" y1="53.00" x2="400.61" y2="53.00" stroke="#7e2f8e" stroke-width="0.9"/>
<line x1="398.61" y1="75.00" x2="400.61" y2="75.00" stroke="#7e2f8e" stroke-width="0.9"/>
<circle cx="399.61" cy="64.00" r="2.6" fill="none" stroke="#7e2f8e" stroke-width="0.9"/>
<line x1="406.32" y1="52.00" x2="406.32" y2="76.60" stroke="#7e2f8e" stroke-width="0.9"/>
<line x1="405.32" y1="52.00" x2="407.32" y2="52.00" stroke="#7e2f8e" stroke-width="0.9"/>
<line x1="405.32" y1="76.60" x2="407.32" y2="76.60" stroke="#7e2f8e" stroke-width="0.9"/>
<circle cx="406.32" cy="64.00" r="2.6" fill="none" stroke="#7e2f8e" stroke-width="0.9"/>
<line x1="413.04" y1="51.50" x2="413.04" y2="79.50" stroke="#7e2f8e" stroke-width="0.9"/>
<line x1="412.04" y1="51.50" x2="414.04" y2="51.50" stroke="#7e2f8e" stroke-width="0.9"/>
<line x1="412.04" y1="79.50" x2="414.04" y2="79.50" stroke="#7e2f8e" stroke-width="0.9"/>
<circle cx="413.04" cy="65.00" r="2.6" fill="none" stroke="#7e2f8e" stroke-width="0.9"/>
<line x1="419.75" y1="51.50" x2="419.75" y2="83.00" stroke="#7e2f8e" stroke-width="0.9"/>
<line x1="418.75" y1="51.50" x2="420.75" y2="51.50" stroke="#7e2f8e" stroke-width="0.9"/>
<line x1="418.75" y1="83.00" x2="420.75" y2="83.00" stroke="#7e2f8e" stroke-width="0.9"/>
<circle cx="419.75" cy="66.90" r="2.6" fill="none" stroke="#7e2f8e" stroke-width="0.9"/>
<line x1="426.46" y1="52.00" x2="426.46" y2="88.20" stroke="#7e2f8e" stroke-width="0.9"/>
<line x1="425.46" y1="52.00" x2="427.46" y2="52.00" stroke="#7e2f8e" stroke-width="0.9"/>
<line x1="425.46" y1="88.20" x2="427.46" y2="88.20" stroke="#7e2f8e" stroke-width="0.9"/>
<circle cx="426.46" cy="69.80" r="2.6" fill="none" stroke="#7e2f8e" stroke-width="0.9"/>
<line x1="433.17" y1="52.40" x2="433.17" y2="94.00" stroke="#7e2f8e" stroke-width="0.9"/>
<line x1="432.17" y1="52.40" x2="434.17" y2="52.40" stroke="#7e2f8e" stroke-width="0.9"/>
<line x1="432.17" y1="94.00" x2="434.17" y2="94.00" stroke="#7e2f8e" stroke-width="0.9"/>
<circle cx="433.17" cy="73.10" r="2.6" fill="none" stroke="#7e2f8e" stroke-width="0.9"/>
<line x1="439.88" y1="53.40" x2="439.88" y2="100.40" stroke="#7e2f8e" stroke-width="0.9"/>
<line x1="438.88" y1="53.40" x2="440.88" y2="53.40" stroke="#7e2f8e" stroke-width="0.9"/>
<line x1="438.88" y1="100.40" x2="440.88" y2="100.40" stroke="#7e2f8e" stroke-width="0.9"/>
<circle cx="439.88" cy="76.60" r="2.6" fill="none" stroke="#7e2f8e" stroke-width="0.9"/>
<line x1="446.59" y1="54.40" x2="446.59" y2="107.40" stroke="#7e2f8e" stroke-width="0.9"/>
<line x1="445.59" y1="54.40" x2="447.59" y2="54.40" stroke="#7e2f8e" stroke-width="0.9"/>
<line x1="445.59" y1="107.40" x2="447.59" y2="107.40" stroke="#7e2f8e" stroke-width="0.9"/>
<circle cx="446.59" cy="81.00" r="2.6" fill="none" stroke="#7e2f8e" stroke-width="0.9"/>
<line x1="453.30" y1="56.30" x2="453.30" y2="114.60" stroke="#7e2f8e" stroke-width="0.9"/>
<line x1="452.30" y1="56.30" x2="454.30" y2="56.30" stroke="#7e2f8e" stroke-width="0.9"/>
<line x1="452.30" y1="114.60" x2="454.30" y2="114.60" stroke="#7e2f8e" stroke-width="0.9"/>
<circle cx="453.30" cy="85.30" r="2.6" fill="none" stroke="#7e2f8e" stroke-width="0.9"/>
<g transform="translate(359.30,197.80) rotate(0)">
<text x="-10.26" y="0.00" font-family='"Liberation Serif", serif' font-size="12.40" font-style="italic" text-anchor="middle" fill="#1a1a1a">z</text>
<text x="-4.27" y="0.00" font-family='"Liberation Serif", serif' font-size="12.40" font-style="normal" text-anchor="middle" fill="#1a1a1a">/</text>
<text x="3.96" y="0.00" font-family='"Liberation Serif", serif' font-size="12.40" font-style="italic" text-anchor="middle" fill="#1a1a1a">D</text>
<text x="11.12" y="2.48" font-family='"Liberation Serif", serif' font-size="8.68" font-style="italic" text-anchor="middle" fill="#1a1a1a">e</text>
</g>
<g transform="translate(247.00,99.60) rotate(-90)">
<path d="M4.9,0.9 C2.6,1.2 0.9,3.0 0.4,5.4 C0.1,7.2 0.4,9.0 1.4,9.9 C2.2,10.6 3.3,10.5 4.2,9.9 M0.5,5.5 C1.2,6.0 2.0,6.2 2.8,6.0 M5.6,1.0 C5.8,4.0 5.6,7.0 5.1,10.1 M5.6,1.0 C6.3,0.1 8.1,-0.1 9.0,0.8 C9.7,1.7 9.3,3.1 8.3,3.9 C7.6,4.5 6.9,4.9 6.3,5.1 M6.3,5.1 C7.2,6.5 7.8,8.5 8.6,9.7 C9.3,10.7 10.5,10.8 11.6,9.7" transform="translate(-16.71,-8.90) scale(1.059,0.833)" fill="none" stroke="#1a1a1a" stroke-width="0.95" stroke-linecap="round"/>
<text x="-0.41" y="0.00" font-family='"Liberation Serif", serif' font-size="12.40" font-style="normal" text-anchor="middle" fill="#1a1a1a">/</text>
<text x="7.83" y="0.00" font-family='"Liberation Serif", serif' font-size="12.40" font-style="italic" text-anchor="middle" fill="#1a1a1a">D</text>
<text x="14.98" y="2.48" font-family='"Liberation Serif", serif' font-size="8.68" font-style="italic" text-anchor="middle" fill="#1a1a1a">e</text>
</g>
<rect x="265.3" y="217.6" width="187.8" height="152.9" fill="none" stroke="#555" stroke-width="1.05"/>
<line x1="445.50" y1="370.5" x2="445.50" y2="368.3" stroke="#262626" stroke-width="0.6"/>
<line x1="445.50" y1="217.6" x2="445.50" y2="219.79999999999998" stroke="#262626" stroke-width="0.6"/>
<text x="445.50" y="383.20" font-family='"Liberation Serif", serif' font-size="11" text-anchor="middle" fill="#1a1a1a" font-style="normal" font-weight="normal" >2</text>
<line x1="413.50" y1="370.5" x2="413.50" y2="368.3" stroke="#262626" stroke-width="0.6"/>
<line x1="413.50" y1="217.6" x2="413.50" y2="219.79999999999998" stroke="#262626" stroke-width="0.6"/>
<text x="413.50" y="383.20" font-family='"Liberation Serif", serif' font-size="11" text-anchor="middle" fill="#1a1a1a" font-style="normal" font-weight="normal" >3</text>
<line x1="381.50" y1="370.5" x2="381.50" y2="368.3" stroke="#262626" stroke-width="0.6"/>
<line x1="381.50" y1="217.6" x2="381.50" y2="219.79999999999998" stroke="#262626" stroke-width="0.6"/>
<text x="381.50" y="383.20" font-family='"Liberation Serif", serif' font-size="11" text-anchor="middle" fill="#1a1a1a" font-style="normal" font-weight="normal" >4</text>
<line x1="349.50" y1="370.5" x2="349.50" y2="368.3" stroke="#262626" stroke-width="0.6"/>
<line x1="349.50" y1="217.6" x2="349.50" y2="219.79999999999998" stroke="#262626" stroke-width="0.6"/>
<text x="349.50" y="383.20" font-family='"Liberation Serif", serif' font-size="11" text-anchor="middle" fill="#1a1a1a" font-style="normal" font-weight="normal" >5</text>
<line x1="317.50" y1="370.5" x2="317.50" y2="368.3" stroke="#262626" stroke-width="0.6"/>
<line x1="317.50" y1="217.6" x2="317.50" y2="219.79999999999998" stroke="#262626" stroke-width="0.6"/>
<text x="317.50" y="383.20" font-family='"Liberation Serif", serif' font-size="11" text-anchor="middle" fill="#1a1a1a" font-style="normal" font-weight="normal" >6</text>
<line x1="285.50" y1="370.5" x2="285.50" y2="368.3" stroke="#262626" stroke-width="0.6"/>
<line x1="285.50" y1="217.6" x2="285.50" y2="219.79999999999998" stroke="#262626" stroke-width="0.6"/>
<text x="285.50" y="383.20" font-family='"Liberation Serif", serif' font-size="11" text-anchor="middle" fill="#1a1a1a" font-style="normal" font-weight="normal" >7</text>
<line x1="265.3" y1="370.50" x2="267.5" y2="370.50" stroke="#262626" stroke-width="0.6"/>
<line x1="453.1" y1="370.50" x2="450.90000000000003" y2="370.50" stroke="#262626" stroke-width="0.6"/>
<text x="262.50" y="374.20" font-family='"Liberation Serif", serif' font-size="11" text-anchor="end" fill="#1a1a1a" font-style="normal" font-weight="normal" >0.05</text>
<line x1="265.3" y1="339.92" x2="267.5" y2="339.92" stroke="#262626" stroke-width="0.6"/>
<line x1="453.1" y1="339.92" x2="450.90000000000003" y2="339.92" stroke="#262626" stroke-width="0.6"/>
<text x="262.50" y="343.62" font-family='"Liberation Serif", serif' font-size="11" text-anchor="end" fill="#1a1a1a" font-style="normal" font-weight="normal" >0.1</text>
<line x1="265.3" y1="309.34" x2="267.5" y2="309.34" stroke="#262626" stroke-width="0.6"/>
<line x1="453.1" y1="309.34" x2="450.90000000000003" y2="309.34" stroke="#262626" stroke-width="0.6"/>
<text x="262.50" y="313.04" font-family='"Liberation Serif", serif' font-size="11" text-anchor="end" fill="#1a1a1a" font-style="normal" font-weight="normal" >0.15</text>
<line x1="265.3" y1="278.76" x2="267.5" y2="278.76" stroke="#262626" stroke-width="0.6"/>
<line x1="453.1" y1="278.76" x2="450.90000000000003" y2="278.76" stroke="#262626" stroke-width="0.6"/>
<text x="262.50" y="282.46" font-family='"Liberation Serif", serif' font-size="11" text-anchor="end" fill="#1a1a1a" font-style="normal" font-weight="normal" >0.2</text>
<line x1="265.3" y1="248.18" x2="267.5" y2="248.18" stroke="#262626" stroke-width="0.6"/>
<line x1="453.1" y1="248.18" x2="450.90000000000003" y2="248.18" stroke="#262626" stroke-width="0.6"/>
<text x="262.50" y="251.88" font-family='"Liberation Serif", serif' font-size="11" text-anchor="end" fill="#1a1a1a" font-style="normal" font-weight="normal" >0.25</text>
<line x1="265.3" y1="217.60" x2="267.5" y2="217.60" stroke="#262626" stroke-width="0.6"/>
<line x1="453.1" y1="217.60" x2="450.90000000000003" y2="217.60" stroke="#262626" stroke-width="0.6"/>
<text x="262.50" y="221.30" font-family='"Liberation Serif", serif' font-size="11" text-anchor="end" fill="#1a1a1a" font-style="normal" font-weight="normal" >0.3</text>
<line x1="265.30" y1="337.20" x2="265.30" y2="360.50" stroke="#7e2f8e" stroke-width="0.9"/>
<line x1="264.30" y1="337.20" x2="266.30" y2="337.20" stroke="#7e2f8e" stroke-width="0.9"/>
<line x1="264.30" y1="360.50" x2="266.30" y2="360.50" stroke="#7e2f8e" stroke-width="0.9"/>
<circle cx="265.30" cy="348.70" r="2.6" fill="none" stroke="#7e2f8e" stroke-width="0.9"/>
<line x1="271.78" y1="338.10" x2="271.78" y2="357.70" stroke="#7e2f8e" stroke-width="0.9"/>
<line x1="270.78" y1="338.10" x2="272.78" y2="338.10" stroke="#7e2f8e" stroke-width="0.9"/>
<line x1="270.78" y1="357.70" x2="272.78" y2="357.70" stroke="#7e2f8e" stroke-width="0.9"/>
<circle cx="271.78" cy="348.00" r="2.6" fill="none" stroke="#7e2f8e" stroke-width="0.9"/>
<line x1="278.25" y1="339.40" x2="278.25" y2="352.50" stroke="#7e2f8e" stroke-width="0.9"/>
<line x1="277.25" y1="339.40" x2="279.25" y2="339.40" stroke="#7e2f8e" stroke-width="0.9"/>
<line x1="277.25" y1="352.50" x2="279.25" y2="352.50" stroke="#7e2f8e" stroke-width="0.9"/>
<circle cx="278.25" cy="346.00" r="2.6" fill="none" stroke="#7e2f8e" stroke-width="0.9"/>
<line x1="284.73" y1="340.60" x2="284.73" y2="347.00" stroke="#7e2f8e" stroke-width="0.9"/>
<line x1="283.73" y1="340.60" x2="285.73" y2="340.60" stroke="#7e2f8e" stroke-width="0.9"/>
<line x1="283.73" y1="347.00" x2="285.73" y2="347.00" stroke="#7e2f8e" stroke-width="0.9"/>
<circle cx="284.73" cy="343.30" r="2.6" fill="none" stroke="#7e2f8e" stroke-width="0.9"/>
<line x1="291.20" y1="333.50" x2="291.20" y2="342.40" stroke="#7e2f8e" stroke-width="0.9"/>
<line x1="290.20" y1="333.50" x2="292.20" y2="333.50" stroke="#7e2f8e" stroke-width="0.9"/>
<line x1="290.20" y1="342.40" x2="292.20" y2="342.40" stroke="#7e2f8e" stroke-width="0.9"/>
<circle cx="291.20" cy="337.80" r="2.6" fill="none" stroke="#7e2f8e" stroke-width="0.9"/>
<line x1="297.68" y1="326.60" x2="297.68" y2="337.20" stroke="#7e2f8e" stroke-width="0.9"/>
<line x1="296.68" y1="326.60" x2="298.68" y2="326.60" stroke="#7e2f8e" stroke-width="0.9"/>
<line x1="296.68" y1="337.20" x2="298.68" y2="337.20" stroke="#7e2f8e" stroke-width="0.9"/>
<circle cx="297.68" cy="331.60" r="2.6" fill="none" stroke="#7e2f8e" stroke-width="0.9"/>
<line x1="304.16" y1="320.50" x2="304.16" y2="330.70" stroke="#7e2f8e" stroke-width="0.9"/>
<line x1="303.16" y1="320.50" x2="305.16" y2="320.50" stroke="#7e2f8e" stroke-width="0.9"/>
<line x1="303.16" y1="330.70" x2="305.16" y2="330.70" stroke="#7e2f8e" stroke-width="0.9"/>
<circle cx="304.16" cy="325.70" r="2.6" fill="none" stroke="#7e2f8e" stroke-width="0.9"/>
<line x1="310.63" y1="313.00" x2="310.63" y2="326.00" stroke="#7e2f8e" stroke-width="0.9"/>
<line x1="309.63" y1="313.00" x2="311.63" y2="313.00" stroke="#7e2f8e" stroke-width="0.9"/>
<line x1="309.63" y1="326.00" x2="311.63" y2="326.00" stroke="#7e2f8e" stroke-width="0.9"/>
<circle cx="310.63" cy="319.20" r="2.6" fill="none" stroke="#7e2f8e" stroke-width="0.9"/>
<line x1="317.11" y1="303.30" x2="317.11" y2="319.50" stroke="#7e2f8e" stroke-width="0.9"/>
<line x1="316.11" y1="303.30" x2="318.11" y2="303.30" stroke="#7e2f8e" stroke-width="0.9"/>
<line x1="316.11" y1="319.50" x2="318.11" y2="319.50" stroke="#7e2f8e" stroke-width="0.9"/>
<circle cx="317.11" cy="311.70" r="2.6" fill="none" stroke="#7e2f8e" stroke-width="0.9"/>
<line x1="323.58" y1="295.60" x2="323.58" y2="313.30" stroke="#7e2f8e" stroke-width="0.9"/>
<line x1="322.58" y1="295.60" x2="324.58" y2="295.60" stroke="#7e2f8e" stroke-width="0.9"/>
<line x1="322.58" y1="313.30" x2="324.58" y2="313.30" stroke="#7e2f8e" stroke-width="0.9"/>
<circle cx="323.58" cy="304.30" r="2.6" fill="none" stroke="#7e2f8e" stroke-width="0.9"/>
<line x1="330.06" y1="289.40" x2="330.06" y2="308.00" stroke="#7e2f8e" stroke-width="0.9"/>
<line x1="329.06" y1="289.40" x2="331.06" y2="289.40" stroke="#7e2f8e" stroke-width="0.9"/>
<line x1="329.06" y1="308.00" x2="331.06" y2="308.00" stroke="#7e2f8e" stroke-width="0.9"/>
<circle cx="330.06" cy="298.70" r="2.6" fill="none" stroke="#7e2f8e" stroke-width="0.9"/>
<line x1="336.53" y1="286.30" x2="336.53" y2="303.60" stroke="#7e2f8e" stroke-width="0.9"/>
<line x1="335.53" y1="286.30" x2="337.53" y2="286.30" stroke="#7e2f8e" stroke-width="0.9"/>
<line x1="335.53" y1="303.60" x2="337.53" y2="303.60" stroke="#7e2f8e" stroke-width="0.9"/>
<circle cx="336.53" cy="294.30" r="2.6" fill="none" stroke="#7e2f8e" stroke-width="0.9"/>
<line x1="343.01" y1="284.40" x2="343.01" y2="296.10" stroke="#7e2f8e" stroke-width="0.9"/>
<line x1="342.01" y1="284.40" x2="344.01" y2="284.40" stroke="#7e2f8e" stroke-width="0.9"/>
<line x1="342.01" y1="296.10" x2="344.01" y2="296.10" stroke="#7e2f8e" stroke-width="0.9"/>
<circle cx="343.01" cy="290.00" r="2.6" fill="none" stroke="#7e2f8e" stroke-width="0.9"/>
<line x1="349.49" y1="283.50" x2="349.49" y2="292.40" stroke="#7e2f8e" stroke-width="0.9"/>
<line x1="348.49" y1="283.50" x2="350.49" y2="283.50" stroke="#7e2f8e" stroke-width="0.9"/>
<line x1="348.49" y1="292.40" x2="350.49" y2="292.40" stroke="#7e2f8e" stroke-width="0.9"/>
<circle cx="349.49" cy="287.60" r="2.6" fill="none" stroke="#7e2f8e" stroke-width="0.9"/>
<line x1="355.96" y1="279.40" x2="355.96" y2="292.40" stroke="#7e2f8e" stroke-width="0.9"/>
<line x1="354.96" y1="279.40" x2="356.96" y2="279.40" stroke="#7e2f8e" stroke-width="0.9"/>
<line x1="354.96" y1="292.40" x2="356.96" y2="292.40" stroke="#7e2f8e" stroke-width="0.9"/>
<circle cx="355.96" cy="285.70" r="2.6" fill="none" stroke="#7e2f8e" stroke-width="0.9"/>
<line x1="362.44" y1="272.70" x2="362.44" y2="294.70" stroke="#7e2f8e" stroke-width="0.9"/>
<line x1="361.44" y1="272.70" x2="363.44" y2="272.70" stroke="#7e2f8e" stroke-width="0.9"/>
<line x1="361.44" y1="294.70" x2="363.44" y2="294.70" stroke="#7e2f8e" stroke-width="0.9"/>
<circle cx="362.44" cy="283.90" r="2.6" fill="none" stroke="#7e2f8e" stroke-width="0.9"/>
<line x1="368.91" y1="265.80" x2="368.91" y2="292.40" stroke="#7e2f8e" stroke-width="0.9"/>
<line x1="367.91" y1="265.80" x2="369.91" y2="265.80" stroke="#7e2f8e" stroke-width="0.9"/>
<line x1="367.91" y1="292.40" x2="369.91" y2="292.40" stroke="#7e2f8e" stroke-width="0.9"/>
<circle cx="368.91" cy="279.20" r="2.6" fill="none" stroke="#7e2f8e" stroke-width="0.9"/>
<line x1="375.39" y1="264.00" x2="375.39" y2="283.50" stroke="#7e2f8e" stroke-width="0.9"/>
<line x1="374.39" y1="264.00" x2="376.39" y2="264.00" stroke="#7e2f8e" stroke-width="0.9"/>
<line x1="374.39" y1="283.50" x2="376.39" y2="283.50" stroke="#7e2f8e" stroke-width="0.9"/>
<circle cx="375.39" cy="273.60" r="2.6" fill="none" stroke="#7e2f8e" stroke-width="0.9"/>
<line x1="381.87" y1="266.40" x2="381.87" y2="272.30" stroke="#7e2f8e" stroke-width="0.9"/>
<line x1="380.87" y1="266.40" x2="382.87" y2="266.40" stroke="#7e2f8e" stroke-width="0.9"/>
<line x1="380.87" y1="272.30" x2="382.87" y2="272.30" stroke="#7e2f8e" stroke-width="0.9"/>
<circle cx="381.87" cy="269.00" r="2.6" fill="none" stroke="#7e2f8e" stroke-width="0.9"/>
<line x1="388.34" y1="258.20" x2="388.34" y2="272.30" stroke="#7e2f8e" stroke-width="0.9"/>
<line x1="387.34" y1="258.20" x2="389.34" y2="258.20" stroke="#7e2f8e" stroke-width="0.9"/>
<line x1="387.34" y1="272.30" x2="389.34" y2="272.30" stroke="#7e2f8e" stroke-width="0.9"/>
<circle cx="388.34" cy="265.20" r="2.6" fill="none" stroke="#7e2f8e" stroke-width="0.9"/>
<line x1="394.82" y1="253.10" x2="394.82" y2="270.40" stroke="#7e2f8e" stroke-width="0.9"/>
<line x1="393.82" y1="253.10" x2="395.82" y2="253.10" stroke="#7e2f8e" stroke-width="0.9"/>
<line x1="393.82" y1="270.40" x2="395.82" y2="270.40" stroke="#7e2f8e" stroke-width="0.9"/>
<circle cx="394.82" cy="261.50" r="2.6" fill="none" stroke="#7e2f8e" stroke-width="0.9"/>
<line x1="401.29" y1="248.50" x2="401.29" y2="267.70" stroke="#7e2f8e" stroke-width="0.9"/>
<line x1="400.29" y1="248.50" x2="402.29" y2="248.50" stroke="#7e2f8e" stroke-width="0.9"/>
<line x1="400.29" y1="267.70" x2="402.29" y2="267.70" stroke="#7e2f8e" stroke-width="0.9"/>
<circle cx="401.29" cy="258.20" r="2.6" fill="none" stroke="#7e2f8e" stroke-width="0.9"/>
<line x1="407.77" y1="244.40" x2="407.77" y2="263.40" stroke="#7e2f8e" stroke-width="0.9"/>
<line x1="406.77" y1="244.40" x2="408.77" y2="244.40" stroke="#7e2f8e" stroke-width="0.9"/>
<line x1="406.77" y1="263.40" x2="408.77" y2="263.40" stroke="#7e2f8e" stroke-width="0.9"/>
<circle cx="407.77" cy="253.70" r="2.6" fill="none" stroke="#7e2f8e" stroke-width="0.9"/>
<line x1="414.24" y1="240.70" x2="414.24" y2="257.40" stroke="#7e2f8e" stroke-width="0.9"/>
<line x1="413.24" y1="240.70" x2="415.24" y2="240.70" stroke="#7e2f8e" stroke-width="0.9"/>
<line x1="413.24" y1="257.40" x2="415.24" y2="257.40" stroke="#7e2f8e" stroke-width="0.9"/>
<circle cx="414.24" cy="248.90" r="2.6" fill="none" stroke="#7e2f8e" stroke-width="0.9"/>
<line x1="420.72" y1="237.70" x2="420.72" y2="251.30" stroke="#7e2f8e" stroke-width="0.9"/>
<line x1="419.72" y1="237.70" x2="421.72" y2="237.70" stroke="#7e2f8e" stroke-width="0.9"/>
<line x1="419.72" y1="251.30" x2="421.72" y2="251.30" stroke="#7e2f8e" stroke-width="0.9"/>
<circle cx="420.72" cy="244.20" r="2.6" fill="none" stroke="#7e2f8e" stroke-width="0.9"/>
<line x1="427.20" y1="233.20" x2="427.20" y2="250.00" stroke="#7e2f8e" stroke-width="0.9"/>
<line x1="426.20" y1="233.20" x2="428.20" y2="233.20" stroke="#7e2f8e" stroke-width="0.9"/>
<line x1="426.20" y1="250.00" x2="428.20" y2="250.00" stroke="#7e2f8e" stroke-width="0.9"/>
<circle cx="427.20" cy="241.40" r="2.6" fill="none" stroke="#7e2f8e" stroke-width="0.9"/>
<line x1="433.67" y1="229.00" x2="433.67" y2="250.00" stroke="#7e2f8e" stroke-width="0.9"/>
<line x1="432.67" y1="229.00" x2="434.67" y2="229.00" stroke="#7e2f8e" stroke-width="0.9"/>
<line x1="432.67" y1="250.00" x2="434.67" y2="250.00" stroke="#7e2f8e" stroke-width="0.9"/>
<circle cx="433.67" cy="239.60" r="2.6" fill="none" stroke="#7e2f8e" stroke-width="0.9"/>
<line x1="440.15" y1="227.10" x2="440.15" y2="248.90" stroke="#7e2f8e" stroke-width="0.9"/>
<line x1="439.15" y1="227.10" x2="441.15" y2="227.10" stroke="#7e2f8e" stroke-width="0.9"/>
<line x1="439.15" y1="248.90" x2="441.15" y2="248.90" stroke="#7e2f8e" stroke-width="0.9"/>
<circle cx="440.15" cy="237.70" r="2.6" fill="none" stroke="#7e2f8e" stroke-width="0.9"/>
<line x1="446.62" y1="226.50" x2="446.62" y2="245.70" stroke="#7e2f8e" stroke-width="0.9"/>
<line x1="445.62" y1="226.50" x2="447.62" y2="226.50" stroke="#7e2f8e" stroke-width="0.9"/>
<line x1="445.62" y1="245.70" x2="447.62" y2="245.70" stroke="#7e2f8e" stroke-width="0.9"/>
<circle cx="446.62" cy="236.40" r="2.6" fill="none" stroke="#7e2f8e" stroke-width="0.9"/>
<line x1="453.10" y1="225.20" x2="453.10" y2="242.90" stroke="#7e2f8e" stroke-width="0.9"/>
<line x1="452.10" y1="225.20" x2="454.10" y2="225.20" stroke="#7e2f8e" stroke-width="0.9"/>
<line x1="452.10" y1="242.90" x2="454.10" y2="242.90" stroke="#7e2f8e" stroke-width="0.9"/>
<circle cx="453.10" cy="234.20" r="2.6" fill="none" stroke="#7e2f8e" stroke-width="0.9"/>
<g transform="translate(359.40,397.60) rotate(0)">
<text x="-10.26" y="0.00" font-family='"Liberation Serif", serif' font-size="12.40" font-style="italic" text-anchor="middle" fill="#1a1a1a">z</text>
<text x="-4.27" y="0.00" font-family='"Liberation Serif", serif' font-size="12.40" font-style="normal" text-anchor="middle" fill="#1a1a1a">/</text>
<text x="3.96" y="0.00" font-family='"Liberation Serif", serif' font-size="12.40" font-style="italic" text-anchor="middle" fill="#1a1a1a">D</text>
<text x="11.12" y="2.48" font-family='"Liberation Serif", serif' font-size="8.68" font-style="italic" text-anchor="middle" fill="#1a1a1a">e</text>
</g>
<g transform="translate(238.00,295.10) rotate(-90)">
<text x="-10.26" y="0.00" font-family='"Liberation Serif", serif' font-size="12.40" font-style="italic" text-anchor="middle" fill="#1a1a1a">δ</text>
<text x="-4.40" y="0.00" font-family='"Liberation Serif", serif' font-size="12.40" font-style="normal" text-anchor="middle" fill="#1a1a1a">/</text>
<text x="3.83" y="0.00" font-family='"Liberation Serif", serif' font-size="12.40" font-style="italic" text-anchor="middle" fill="#1a1a1a">D</text>
<text x="10.99" y="2.48" font-family='"Liberation Serif", serif' font-size="8.68" font-style="italic" text-anchor="middle" fill="#1a1a1a">e</text>
</g>
<text x="317.30" y="241.10" font-family='"Liberation Serif", serif' font-size="13" text-anchor="middle" fill="#111" font-style="normal" font-weight="normal" >Towards</text>
<text x="317.10" y="256.60" font-family='"Liberation Serif", serif' font-size="13" text-anchor="middle" fill="#111" font-style="normal" font-weight="normal" >Nozzle</text>
<text x="409.40" y="307.80" font-family='"Liberation Serif", serif' font-size="13" text-anchor="middle" fill="#111" font-style="normal" font-weight="normal" >Towards</text>
<text x="409.60" y="322.90" font-family='"Liberation Serif", serif' font-size="13" text-anchor="middle" fill="#111" font-style="normal" font-weight="normal" >Wall</text>
<line x1="292.9" y1="247.3" x2="268.5" y2="263.8" stroke="#000" stroke-width="1.6" marker-end="url(#ahk)"/>
<line x1="426.6" y1="313.4" x2="450.8" y2="328.8" stroke="#000" stroke-width="1.6" marker-end="url(#ahk)"/>
<rect x="490.8" y="23.3" width="185.2" height="147.2" fill="none" stroke="#555" stroke-width="1.05"/>
<line x1="509.38" y1="170.5" x2="509.38" y2="169.1" stroke="#262626" stroke-width="0.6"/>
<line x1="509.38" y1="23.3" x2="509.38" y2="24.7" stroke="#262626" stroke-width="0.6"/>
<line x1="520.25" y1="170.5" x2="520.25" y2="169.1" stroke="#262626" stroke-width="0.6"/>
<line x1="520.25" y1="23.3" x2="520.25" y2="24.7" stroke="#262626" stroke-width="0.6"/>
<line x1="527.97" y1="170.5" x2="527.97" y2="169.1" stroke="#262626" stroke-width="0.6"/>
<line x1="527.97" y1="23.3" x2="527.97" y2="24.7" stroke="#262626" stroke-width="0.6"/>
<line x1="533.95" y1="170.5" x2="533.95" y2="169.1" stroke="#262626" stroke-width="0.6"/>
<line x1="533.95" y1="23.3" x2="533.95" y2="24.7" stroke="#262626" stroke-width="0.6"/>
<line x1="538.84" y1="170.5" x2="538.84" y2="169.1" stroke="#262626" stroke-width="0.6"/>
<line x1="538.84" y1="23.3" x2="538.84" y2="24.7" stroke="#262626" stroke-width="0.6"/>
<line x1="542.97" y1="170.5" x2="542.97" y2="169.1" stroke="#262626" stroke-width="0.6"/>
<line x1="542.97" y1="23.3" x2="542.97" y2="24.7" stroke="#262626" stroke-width="0.6"/>
<line x1="546.55" y1="170.5" x2="546.55" y2="169.1" stroke="#262626" stroke-width="0.6"/>
<line x1="546.55" y1="23.3" x2="546.55" y2="24.7" stroke="#262626" stroke-width="0.6"/>
<line x1="549.71" y1="170.5" x2="549.71" y2="169.1" stroke="#262626" stroke-width="0.6"/>
<line x1="549.71" y1="23.3" x2="549.71" y2="24.7" stroke="#262626" stroke-width="0.6"/>
<line x1="552.53" y1="170.5" x2="552.53" y2="168.1" stroke="#262626" stroke-width="0.6"/>
<line x1="552.53" y1="23.3" x2="552.53" y2="25.7" stroke="#262626" stroke-width="0.6"/>
<line x1="571.12" y1="170.5" x2="571.12" y2="169.1" stroke="#262626" stroke-width="0.6"/>
<line x1="571.12" y1="23.3" x2="571.12" y2="24.7" stroke="#262626" stroke-width="0.6"/>
<line x1="581.99" y1="170.5" x2="581.99" y2="169.1" stroke="#262626" stroke-width="0.6"/>
<line x1="581.99" y1="23.3" x2="581.99" y2="24.7" stroke="#262626" stroke-width="0.6"/>
<line x1="589.70" y1="170.5" x2="589.70" y2="169.1" stroke="#262626" stroke-width="0.6"/>
<line x1="589.70" y1="23.3" x2="589.70" y2="24.7" stroke="#262626" stroke-width="0.6"/>
<line x1="595.68" y1="170.5" x2="595.68" y2="169.1" stroke="#262626" stroke-width="0.6"/>
<line x1="595.68" y1="23.3" x2="595.68" y2="24.7" stroke="#262626" stroke-width="0.6"/>
<line x1="600.57" y1="170.5" x2="600.57" y2="169.1" stroke="#262626" stroke-width="0.6"/>
<line x1="600.57" y1="23.3" x2="600.57" y2="24.7" stroke="#262626" stroke-width="0.6"/>
<line x1="604.70" y1="170.5" x2="604.70" y2="169.1" stroke="#262626" stroke-width="0.6"/>
<line x1="604.70" y1="23.3" x2="604.70" y2="24.7" stroke="#262626" stroke-width="0.6"/>
<line x1="608.28" y1="170.5" x2="608.28" y2="169.1" stroke="#262626" stroke-width="0.6"/>
<line x1="608.28" y1="23.3" x2="608.28" y2="24.7" stroke="#262626" stroke-width="0.6"/>
<line x1="611.44" y1="170.5" x2="611.44" y2="169.1" stroke="#262626" stroke-width="0.6"/>
<line x1="611.44" y1="23.3" x2="611.44" y2="24.7" stroke="#262626" stroke-width="0.6"/>
<line x1="614.27" y1="170.5" x2="614.27" y2="168.1" stroke="#262626" stroke-width="0.6"/>
<line x1="614.27" y1="23.3" x2="614.27" y2="25.7" stroke="#262626" stroke-width="0.6"/>
<line x1="632.85" y1="170.5" x2="632.85" y2="169.1" stroke="#262626" stroke-width="0.6"/>
<line x1="632.85" y1="23.3" x2="632.85" y2="24.7" stroke="#262626" stroke-width="0.6"/>
<line x1="643.72" y1="170.5" x2="643.72" y2="169.1" stroke="#262626" stroke-width="0.6"/>
<line x1="643.72" y1="23.3" x2="643.72" y2="24.7" stroke="#262626" stroke-width="0.6"/>
<line x1="651.43" y1="170.5" x2="651.43" y2="169.1" stroke="#262626" stroke-width="0.6"/>
<line x1="651.43" y1="23.3" x2="651.43" y2="24.7" stroke="#262626" stroke-width="0.6"/>
<line x1="657.42" y1="170.5" x2="657.42" y2="169.1" stroke="#262626" stroke-width="0.6"/>
<line x1="657.42" y1="23.3" x2="657.42" y2="24.7" stroke="#262626" stroke-width="0.6"/>
<line x1="662.30" y1="170.5" x2="662.30" y2="169.1" stroke="#262626" stroke-width="0.6"/>
<line x1="662.30" y1="23.3" x2="662.30" y2="24.7" stroke="#262626" stroke-width="0.6"/>
<line x1="666.44" y1="170.5" x2="666.44" y2="169.1" stroke="#262626" stroke-width="0.6"/>
<line x1="666.44" y1="23.3" x2="666.44" y2="24.7" stroke="#262626" stroke-width="0.6"/>
<line x1="670.02" y1="170.5" x2="670.02" y2="169.1" stroke="#262626" stroke-width="0.6"/>
<line x1="670.02" y1="23.3" x2="670.02" y2="24.7" stroke="#262626" stroke-width="0.6"/>
<line x1="673.18" y1="170.5" x2="673.18" y2="169.1" stroke="#262626" stroke-width="0.6"/>
<line x1="673.18" y1="23.3" x2="673.18" y2="24.7" stroke="#262626" stroke-width="0.6"/>
<line x1="490.8" y1="148.34" x2="492.2" y2="148.34" stroke="#262626" stroke-width="0.6"/>
<line x1="676" y1="148.34" x2="674.6" y2="148.34" stroke="#262626" stroke-width="0.6"/>
<line x1="490.8" y1="135.38" x2="492.2" y2="135.38" stroke="#262626" stroke-width="0.6"/>
<line x1="676" y1="135.38" x2="674.6" y2="135.38" stroke="#262626" stroke-width="0.6"/>
<line x1="490.8" y1="126.19" x2="492.2" y2="126.19" stroke="#262626" stroke-width="0.6"/>
<line x1="676" y1="126.19" x2="674.6" y2="126.19" stroke="#262626" stroke-width="0.6"/>
<line x1="490.8" y1="119.06" x2="492.2" y2="119.06" stroke="#262626" stroke-width="0.6"/>
<line x1="676" y1="119.06" x2="674.6" y2="119.06" stroke="#262626" stroke-width="0.6"/>
<line x1="490.8" y1="113.23" x2="492.2" y2="113.23" stroke="#262626" stroke-width="0.6"/>
<line x1="676" y1="113.23" x2="674.6" y2="113.23" stroke="#262626" stroke-width="0.6"/>
<line x1="490.8" y1="108.30" x2="492.2" y2="108.30" stroke="#262626" stroke-width="0.6"/>
<line x1="676" y1="108.30" x2="674.6" y2="108.30" stroke="#262626" stroke-width="0.6"/>
<line x1="490.8" y1="104.03" x2="492.2" y2="104.03" stroke="#262626" stroke-width="0.6"/>
<line x1="676" y1="104.03" x2="674.6" y2="104.03" stroke="#262626" stroke-width="0.6"/>
<line x1="490.8" y1="100.27" x2="492.2" y2="100.27" stroke="#262626" stroke-width="0.6"/>
<line x1="676" y1="100.27" x2="674.6" y2="100.27" stroke="#262626" stroke-width="0.6"/>
<line x1="490.8" y1="96.90" x2="493.2" y2="96.90" stroke="#262626" stroke-width="0.6"/>
<line x1="676" y1="96.90" x2="673.6" y2="96.90" stroke="#262626" stroke-width="0.6"/>
<line x1="490.8" y1="74.74" x2="492.2" y2="74.74" stroke="#262626" stroke-width="0.6"/>
<line x1="676" y1="74.74" x2="674.6" y2="74.74" stroke="#262626" stroke-width="0.6"/>
<line x1="490.8" y1="61.78" x2="492.2" y2="61.78" stroke="#262626" stroke-width="0.6"/>
<line x1="676" y1="61.78" x2="674.6" y2="61.78" stroke="#262626" stroke-width="0.6"/>
<line x1="490.8" y1="52.59" x2="492.2" y2="52.59" stroke="#262626" stroke-width="0.6"/>
<line x1="676" y1="52.59" x2="674.6" y2="52.59" stroke="#262626" stroke-width="0.6"/>
<line x1="490.8" y1="45.46" x2="492.2" y2="45.46" stroke="#262626" stroke-width="0.6"/>
<line x1="676" y1="45.46" x2="674.6" y2="45.46" stroke="#262626" stroke-width="0.6"/>
<line x1="490.8" y1="39.63" x2="492.2" y2="39.63" stroke="#262626" stroke-width="0.6"/>
<line x1="676" y1="39.63" x2="674.6" y2="39.63" stroke="#262626" stroke-width="0.6"/>
<line x1="490.8" y1="34.70" x2="492.2" y2="34.70" stroke="#262626" stroke-width="0.6"/>
<line x1="676" y1="34.70" x2="674.6" y2="34.70" stroke="#262626" stroke-width="0.6"/>
<line x1="490.8" y1="30.43" x2="492.2" y2="30.43" stroke="#262626" stroke-width="0.6"/>
<line x1="676" y1="30.43" x2="674.6" y2="30.43" stroke="#262626" stroke-width="0.6"/>
<line x1="490.8" y1="26.67" x2="492.2" y2="26.67" stroke="#262626" stroke-width="0.6"/>
<line x1="676" y1="26.67" x2="674.6" y2="26.67" stroke="#262626" stroke-width="0.6"/>
<text x="491.10" y="183.30" font-family='"Liberation Serif", serif' font-size="11" text-anchor="middle" fill="#1a1a1a">10<tspan font-size="7.7" dy="-4">0</tspan></text>
<text x="552.83" y="183.30" font-family='"Liberation Serif", serif' font-size="11" text-anchor="middle" fill="#1a1a1a">10<tspan font-size="7.7" dy="-4">1</tspan></text>
<text x="614.57" y="183.30" font-family='"Liberation Serif", serif' font-size="11" text-anchor="middle" fill="#1a1a1a">10<tspan font-size="7.7" dy="-4">2</tspan></text>
<text x="676.30" y="183.30" font-family='"Liberation Serif", serif' font-size="11" text-anchor="middle" fill="#1a1a1a">10<tspan font-size="7.7" dy="-4">3</tspan></text>
<text x="488.30" y="173.90" font-family='"Liberation Serif", serif' font-size="11" text-anchor="end" fill="#1a1a1a">10<tspan font-size="7.7" dy="-4">0</tspan></text>
<text x="488.30" y="100.30" font-family='"Liberation Serif", serif' font-size="11" text-anchor="end" fill="#1a1a1a">10<tspan font-size="7.7" dy="-4">1</tspan></text>
<text x="488.30" y="26.70" font-family='"Liberation Serif", serif' font-size="11" text-anchor="end" fill="#1a1a1a">10<tspan font-size="7.7" dy="-4">2</tspan></text>
<g transform="translate(583.00,196.70) rotate(0)">
<text x="-2.02" y="0.00" font-family='"Liberation Serif", serif' font-size="12.40" font-style="italic" text-anchor="middle" fill="#1a1a1a">η</text>
<text x="3.08" y="2.48" font-family='"Liberation Serif", serif' font-size="8.68" font-style="italic" text-anchor="middle" fill="#1a1a1a">e</text>
</g>
<g transform="translate(468.00,99.20) rotate(-90)">
<path d="M4.9,0.9 C2.6,1.2 0.9,3.0 0.4,5.4 C0.1,7.2 0.4,9.0 1.4,9.9 C2.2,10.6 3.3,10.5 4.2,9.9 M0.5,5.5 C1.2,6.0 2.0,6.2 2.8,6.0 M5.6,1.0 C5.8,4.0 5.6,7.0 5.1,10.1 M5.6,1.0 C6.3,0.1 8.1,-0.1 9.0,0.8 C9.7,1.7 9.3,3.1 8.3,3.9 C7.6,4.5 6.9,4.9 6.3,5.1 M6.3,5.1 C7.2,6.5 7.8,8.5 8.6,9.7 C9.3,10.7 10.5,10.8 11.6,9.7" transform="translate(-16.21,-9.40) scale(0.975,0.877)" fill="none" stroke="#1a1a1a" stroke-width="0.97" stroke-linecap="round"/>
<text x="-0.91" y="0.00" font-family='"Liberation Serif", serif' font-size="12.40" font-style="normal" text-anchor="middle" fill="#1a1a1a">/</text>
<text x="7.33" y="0.00" font-family='"Liberation Serif", serif' font-size="12.40" font-style="italic" text-anchor="middle" fill="#1a1a1a">D</text>
<text x="14.48" y="2.48" font-family='"Liberation Serif", serif' font-size="8.68" font-style="italic" text-anchor="middle" fill="#1a1a1a">e</text>
</g>
<line x1="509.5" y1="89.8" x2="643.8" y2="38.6" stroke="#111" stroke-width="1.1"/>
<text x="563" y="58.8" font-family='"Liberation Sans", sans-serif' font-size="13" text-anchor="middle" fill="#111" letter-spacing="0.5">1/3</text>
<line x1="509.40" y1="110.60" x2="509.40" y2="132.50" stroke="#7e2f8e" stroke-width="0.9"/>
<line x1="508.40" y1="110.60" x2="510.40" y2="110.60" stroke="#7e2f8e" stroke-width="0.9"/>
<line x1="508.40" y1="132.50" x2="510.40" y2="132.50" stroke="#7e2f8e" stroke-width="0.9"/>
<circle cx="509.40" cy="119.20" r="2.6" fill="none" stroke="#7e2f8e" stroke-width="0.9"/>
<line x1="509.40" y1="112.00" x2="509.40" y2="130.00" stroke="#7e2f8e" stroke-width="0.9"/>
<line x1="508.40" y1="112.00" x2="510.40" y2="112.00" stroke="#7e2f8e" stroke-width="0.9"/>
<line x1="508.40" y1="130.00" x2="510.40" y2="130.00" stroke="#7e2f8e" stroke-width="0.9"/>
<circle cx="509.40" cy="121.40" r="2.6" fill="none" stroke="#7e2f8e" stroke-width="0.9"/>
<line x1="509.40" y1="114.00" x2="509.40" y2="131.00" stroke="#7e2f8e" stroke-width="0.9"/>
<line x1="508.40" y1="114.00" x2="510.40" y2="114.00" stroke="#7e2f8e" stroke-width="0.9"/>
<line x1="508.40" y1="131.00" x2="510.40" y2="131.00" stroke="#7e2f8e" stroke-width="0.9"/>
<circle cx="509.40" cy="124.20" r="2.6" fill="none" stroke="#7e2f8e" stroke-width="0.9"/>
<line x1="528.00" y1="87.50" x2="528.00" y2="111.00" stroke="#7e2f8e" stroke-width="0.9"/>
<line x1="527.00" y1="87.50" x2="529.00" y2="87.50" stroke="#7e2f8e" stroke-width="0.9"/>
<line x1="527.00" y1="111.00" x2="529.00" y2="111.00" stroke="#7e2f8e" stroke-width="0.9"/>
<circle cx="528.00" cy="99.40" r="2.6" fill="none" stroke="#7e2f8e" stroke-width="0.9"/>
<line x1="528.00" y1="98.00" x2="528.00" y2="118.00" stroke="#7e2f8e" stroke-width="0.9"/>
<line x1="527.00" y1="98.00" x2="529.00" y2="98.00" stroke="#7e2f8e" stroke-width="0.9"/>
<line x1="527.00" y1="118.00" x2="529.00" y2="118.00" stroke="#7e2f8e" stroke-width="0.9"/>
<circle cx="528.00" cy="107.40" r="2.6" fill="none" stroke="#7e2f8e" stroke-width="0.9"/>
<line x1="528.00" y1="100.00" x2="528.00" y2="122.00" stroke="#7e2f8e" stroke-width="0.9"/>
<line x1="527.00" y1="100.00" x2="529.00" y2="100.00" stroke="#7e2f8e" stroke-width="0.9"/>
<line x1="527.00" y1="122.00" x2="529.00" y2="122.00" stroke="#7e2f8e" stroke-width="0.9"/>
<circle cx="528.00" cy="110.20" r="2.6" fill="none" stroke="#7e2f8e" stroke-width="0.9"/>
<line x1="528.00" y1="101.00" x2="528.00" y2="125.10" stroke="#7e2f8e" stroke-width="0.9"/>
<line x1="527.00" y1="101.00" x2="529.00" y2="101.00" stroke="#7e2f8e" stroke-width="0.9"/>
<line x1="527.00" y1="125.10" x2="529.00" y2="125.10" stroke="#7e2f8e" stroke-width="0.9"/>
<circle cx="528.00" cy="111.70" r="2.6" fill="none" stroke="#7e2f8e" stroke-width="0.9"/>
<line x1="523.30" y1="100.90" x2="523.30" y2="113.90" stroke="#3d9a50" stroke-width="0.9"/>
<line x1="522.30" y1="100.90" x2="524.30" y2="100.90" stroke="#3d9a50" stroke-width="0.9"/>
<line x1="522.30" y1="113.90" x2="524.30" y2="113.90" stroke="#3d9a50" stroke-width="0.9"/>
<circle cx="523.30" cy="106.50" r="2.6" fill="none" stroke="#3d9a50" stroke-width="0.9"/>
<line x1="533.70" y1="96.80" x2="533.70" y2="115.80" stroke="#3d9a50" stroke-width="0.9"/>
<line x1="532.70" y1="96.80" x2="534.70" y2="96.80" stroke="#3d9a50" stroke-width="0.9"/>
<line x1="532.70" y1="115.80" x2="534.70" y2="115.80" stroke="#3d9a50" stroke-width="0.9"/>
<circle cx="533.70" cy="104.60" r="2.6" fill="none" stroke="#3d9a50" stroke-width="0.9"/>
<line x1="547.70" y1="88.50" x2="547.70" y2="112.10" stroke="#3d9a50" stroke-width="0.9"/>
<line x1="546.70" y1="88.50" x2="548.70" y2="88.50" stroke="#3d9a50" stroke-width="0.9"/>
<line x1="546.70" y1="112.10" x2="548.70" y2="112.10" stroke="#3d9a50" stroke-width="0.9"/>
<circle cx="547.70" cy="98.20" r="2.6" fill="none" stroke="#3d9a50" stroke-width="0.9"/>
<line x1="554.60" y1="91.20" x2="554.60" y2="98.40" stroke="#3d9a50" stroke-width="0.9"/>
<line x1="553.60" y1="91.20" x2="555.60" y2="91.20" stroke="#3d9a50" stroke-width="0.9"/>
<line x1="553.60" y1="98.40" x2="555.60" y2="98.40" stroke="#3d9a50" stroke-width="0.9"/>
<circle cx="554.60" cy="94.50" r="2.6" fill="none" stroke="#3d9a50" stroke-width="0.9"/>
<line x1="562.00" y1="85.00" x2="562.00" y2="100.50" stroke="#3d9a50" stroke-width="0.9"/>
<line x1="561.00" y1="85.00" x2="563.00" y2="85.00" stroke="#3d9a50" stroke-width="0.9"/>
<line x1="561.00" y1="100.50" x2="563.00" y2="100.50" stroke="#3d9a50" stroke-width="0.9"/>
<circle cx="562.00" cy="91.50" r="2.6" fill="none" stroke="#3d9a50" stroke-width="0.9"/>
<line x1="569.10" y1="82.20" x2="569.10" y2="103.20" stroke="#3d9a50" stroke-width="0.9"/>
<line x1="568.10" y1="82.20" x2="570.10" y2="82.20" stroke="#3d9a50" stroke-width="0.9"/>
<line x1="568.10" y1="103.20" x2="570.10" y2="103.20" stroke="#3d9a50" stroke-width="0.9"/>
<circle cx="569.10" cy="90.60" r="2.6" fill="none" stroke="#3d9a50" stroke-width="0.9"/>
<line x1="592.00" y1="63.50" x2="592.00" y2="86.00" stroke="#7e2f8e" stroke-width="0.9"/>
<line x1="591.00" y1="63.50" x2="593.00" y2="63.50" stroke="#7e2f8e" stroke-width="0.9"/>
<line x1="591.00" y1="86.00" x2="593.00" y2="86.00" stroke="#7e2f8e" stroke-width="0.9"/>
<circle cx="592.00" cy="75.00" r="2.6" fill="none" stroke="#7e2f8e" stroke-width="0.9"/>
<line x1="594.00" y1="66.00" x2="594.00" y2="90.00" stroke="#7e2f8e" stroke-width="0.9"/>
<line x1="593.00" y1="66.00" x2="595.00" y2="66.00" stroke="#7e2f8e" stroke-width="0.9"/>
<line x1="593.00" y1="90.00" x2="595.00" y2="90.00" stroke="#7e2f8e" stroke-width="0.9"/>
<circle cx="594.00" cy="78.00" r="2.6" fill="none" stroke="#7e2f8e" stroke-width="0.9"/>
<line x1="596.00" y1="68.00" x2="596.00" y2="94.00" stroke="#7e2f8e" stroke-width="0.9"/>
<line x1="595.00" y1="68.00" x2="597.00" y2="68.00" stroke="#7e2f8e" stroke-width="0.9"/>
<line x1="595.00" y1="94.00" x2="597.00" y2="94.00" stroke="#7e2f8e" stroke-width="0.9"/>
<circle cx="596.00" cy="80.00" r="2.6" fill="none" stroke="#7e2f8e" stroke-width="0.9"/>
<line x1="593.00" y1="72.00" x2="593.00" y2="92.00" stroke="#7e2f8e" stroke-width="0.9"/>
<line x1="592.00" y1="72.00" x2="594.00" y2="72.00" stroke="#7e2f8e" stroke-width="0.9"/>
<line x1="592.00" y1="92.00" x2="594.00" y2="92.00" stroke="#7e2f8e" stroke-width="0.9"/>
<circle cx="593.00" cy="82.00" r="2.6" fill="none" stroke="#7e2f8e" stroke-width="0.9"/>
<line x1="595.00" y1="74.00" x2="595.00" y2="94.00" stroke="#7e2f8e" stroke-width="0.9"/>
<line x1="594.00" y1="74.00" x2="596.00" y2="74.00" stroke="#7e2f8e" stroke-width="0.9"/>
<line x1="594.00" y1="94.00" x2="596.00" y2="94.00" stroke="#7e2f8e" stroke-width="0.9"/>
<circle cx="595.00" cy="84.00" r="2.6" fill="none" stroke="#7e2f8e" stroke-width="0.9"/>
<line x1="597.00" y1="70.00" x2="597.00" y2="86.00" stroke="#7e2f8e" stroke-width="0.9"/>
<line x1="596.00" y1="70.00" x2="598.00" y2="70.00" stroke="#7e2f8e" stroke-width="0.9"/>
<line x1="596.00" y1="86.00" x2="598.00" y2="86.00" stroke="#7e2f8e" stroke-width="0.9"/>
<circle cx="597.00" cy="77.00" r="2.6" fill="none" stroke="#7e2f8e" stroke-width="0.9"/>
<line x1="592.50" y1="78.00" x2="592.50" y2="94.00" stroke="#7e2f8e" stroke-width="0.9"/>
<line x1="591.50" y1="78.00" x2="593.50" y2="78.00" stroke="#7e2f8e" stroke-width="0.9"/>
<line x1="591.50" y1="94.00" x2="593.50" y2="94.00" stroke="#7e2f8e" stroke-width="0.9"/>
<circle cx="592.50" cy="86.00" r="2.6" fill="none" stroke="#7e2f8e" stroke-width="0.9"/>
<line x1="594.50" y1="64.00" x2="594.50" y2="84.00" stroke="#7e2f8e" stroke-width="0.9"/>
<line x1="593.50" y1="64.00" x2="595.50" y2="64.00" stroke="#7e2f8e" stroke-width="0.9"/>
<line x1="593.50" y1="84.00" x2="595.50" y2="84.00" stroke="#7e2f8e" stroke-width="0.9"/>
<circle cx="594.50" cy="74.60" r="2.6" fill="none" stroke="#7e2f8e" stroke-width="0.9"/>
<line x1="627.40" y1="67.00" x2="627.40" y2="74.00" stroke="#7e2f8e" stroke-width="0.9"/>
<line x1="626.40" y1="67.00" x2="628.40" y2="67.00" stroke="#7e2f8e" stroke-width="0.9"/>
<line x1="626.40" y1="74.00" x2="628.40" y2="74.00" stroke="#7e2f8e" stroke-width="0.9"/>
<circle cx="627.40" cy="70.60" r="2.6" fill="none" stroke="#7e2f8e" stroke-width="0.9"/>
<line x1="630.60" y1="68.10" x2="630.60" y2="79.90" stroke="#7e2f8e" stroke-width="0.9"/>
<line x1="629.60" y1="68.10" x2="631.60" y2="68.10" stroke="#7e2f8e" stroke-width="0.9"/>
<line x1="629.60" y1="79.90" x2="631.60" y2="79.90" stroke="#7e2f8e" stroke-width="0.9"/>
<circle cx="630.60" cy="73.70" r="2.6" fill="none" stroke="#7e2f8e" stroke-width="0.9"/>
<line x1="634.30" y1="65.70" x2="634.30" y2="81.20" stroke="#7e2f8e" stroke-width="0.9"/>
<line x1="633.30" y1="65.70" x2="635.30" y2="65.70" stroke="#7e2f8e" stroke-width="0.9"/>
<line x1="633.30" y1="81.20" x2="635.30" y2="81.20" stroke="#7e2f8e" stroke-width="0.9"/>
<circle cx="634.30" cy="72.40" r="2.6" fill="none" stroke="#7e2f8e" stroke-width="0.9"/>
<line x1="639.20" y1="73.70" x2="639.20" y2="83.00" stroke="#7e2f8e" stroke-width="0.9"/>
<line x1="638.20" y1="73.70" x2="640.20" y2="73.70" stroke="#7e2f8e" stroke-width="0.9"/>
<line x1="638.20" y1="83.00" x2="640.20" y2="83.00" stroke="#7e2f8e" stroke-width="0.9"/>
<circle cx="639.20" cy="78.00" r="2.6" fill="none" stroke="#7e2f8e" stroke-width="0.9"/>
<line x1="643.80" y1="67.20" x2="643.80" y2="77.40" stroke="#7e2f8e" stroke-width="0.9"/>
<line x1="642.80" y1="67.20" x2="644.80" y2="67.20" stroke="#7e2f8e" stroke-width="0.9"/>
<line x1="642.80" y1="77.40" x2="644.80" y2="77.40" stroke="#7e2f8e" stroke-width="0.9"/>
<circle cx="643.80" cy="71.90" r="2.6" fill="none" stroke="#7e2f8e" stroke-width="0.9"/>
<circle cx="592.8" cy="146" r="2.6" fill="none" stroke="#7e2f8e" stroke-width="0.9"/>
<circle cx="592.8" cy="159.8" r="2.6" fill="none" stroke="#3d9a50" stroke-width="0.9"/>
<text x="599.00" y="149.60" font-family='"Liberation Serif", serif' font-size="12.6" text-anchor="start" fill="#111" font-style="normal" font-weight="normal" >Current Study</text>
<text x="599.00" y="163.00" font-family='"Liberation Serif", serif' font-size="12.45" text-anchor="start" fill="#111" font-style="normal" font-weight="normal" >Inman (2009)</text>
<rect x="491.2" y="218" width="185.40000000000003" height="152.2" fill="none" stroke="#555" stroke-width="1.05"/>
<line x1="509.80" y1="370.2" x2="509.80" y2="368.8" stroke="#262626" stroke-width="0.6"/>
<line x1="509.80" y1="218" x2="509.80" y2="219.4" stroke="#262626" stroke-width="0.6"/>
<line x1="520.69" y1="370.2" x2="520.69" y2="368.8" stroke="#262626" stroke-width="0.6"/>
<line x1="520.69" y1="218" x2="520.69" y2="219.4" stroke="#262626" stroke-width="0.6"/>
<line x1="528.41" y1="370.2" x2="528.41" y2="368.8" stroke="#262626" stroke-width="0.6"/>
<line x1="528.41" y1="218" x2="528.41" y2="219.4" stroke="#262626" stroke-width="0.6"/>
<line x1="534.40" y1="370.2" x2="534.40" y2="368.8" stroke="#262626" stroke-width="0.6"/>
<line x1="534.40" y1="218" x2="534.40" y2="219.4" stroke="#262626" stroke-width="0.6"/>
<line x1="539.29" y1="370.2" x2="539.29" y2="368.8" stroke="#262626" stroke-width="0.6"/>
<line x1="539.29" y1="218" x2="539.29" y2="219.4" stroke="#262626" stroke-width="0.6"/>
<line x1="543.43" y1="370.2" x2="543.43" y2="368.8" stroke="#262626" stroke-width="0.6"/>
<line x1="543.43" y1="218" x2="543.43" y2="219.4" stroke="#262626" stroke-width="0.6"/>
<line x1="547.01" y1="370.2" x2="547.01" y2="368.8" stroke="#262626" stroke-width="0.6"/>
<line x1="547.01" y1="218" x2="547.01" y2="219.4" stroke="#262626" stroke-width="0.6"/>
<line x1="550.17" y1="370.2" x2="550.17" y2="368.8" stroke="#262626" stroke-width="0.6"/>
<line x1="550.17" y1="218" x2="550.17" y2="219.4" stroke="#262626" stroke-width="0.6"/>
<line x1="553.00" y1="370.2" x2="553.00" y2="367.8" stroke="#262626" stroke-width="0.6"/>
<line x1="553.00" y1="218" x2="553.00" y2="220.4" stroke="#262626" stroke-width="0.6"/>
<line x1="571.60" y1="370.2" x2="571.60" y2="368.8" stroke="#262626" stroke-width="0.6"/>
<line x1="571.60" y1="218" x2="571.60" y2="219.4" stroke="#262626" stroke-width="0.6"/>
<line x1="582.49" y1="370.2" x2="582.49" y2="368.8" stroke="#262626" stroke-width="0.6"/>
<line x1="582.49" y1="218" x2="582.49" y2="219.4" stroke="#262626" stroke-width="0.6"/>
<line x1="590.21" y1="370.2" x2="590.21" y2="368.8" stroke="#262626" stroke-width="0.6"/>
<line x1="590.21" y1="218" x2="590.21" y2="219.4" stroke="#262626" stroke-width="0.6"/>
<line x1="596.20" y1="370.2" x2="596.20" y2="368.8" stroke="#262626" stroke-width="0.6"/>
<line x1="596.20" y1="218" x2="596.20" y2="219.4" stroke="#262626" stroke-width="0.6"/>
<line x1="601.09" y1="370.2" x2="601.09" y2="368.8" stroke="#262626" stroke-width="0.6"/>
<line x1="601.09" y1="218" x2="601.09" y2="219.4" stroke="#262626" stroke-width="0.6"/>
<line x1="605.23" y1="370.2" x2="605.23" y2="368.8" stroke="#262626" stroke-width="0.6"/>
<line x1="605.23" y1="218" x2="605.23" y2="219.4" stroke="#262626" stroke-width="0.6"/>
<line x1="608.81" y1="370.2" x2="608.81" y2="368.8" stroke="#262626" stroke-width="0.6"/>
<line x1="608.81" y1="218" x2="608.81" y2="219.4" stroke="#262626" stroke-width="0.6"/>
<line x1="611.97" y1="370.2" x2="611.97" y2="368.8" stroke="#262626" stroke-width="0.6"/>
<line x1="611.97" y1="218" x2="611.97" y2="219.4" stroke="#262626" stroke-width="0.6"/>
<line x1="614.80" y1="370.2" x2="614.80" y2="367.8" stroke="#262626" stroke-width="0.6"/>
<line x1="614.80" y1="218" x2="614.80" y2="220.4" stroke="#262626" stroke-width="0.6"/>
<line x1="633.40" y1="370.2" x2="633.40" y2="368.8" stroke="#262626" stroke-width="0.6"/>
<line x1="633.40" y1="218" x2="633.40" y2="219.4" stroke="#262626" stroke-width="0.6"/>
<line x1="644.29" y1="370.2" x2="644.29" y2="368.8" stroke="#262626" stroke-width="0.6"/>
<line x1="644.29" y1="218" x2="644.29" y2="219.4" stroke="#262626" stroke-width="0.6"/>
<line x1="652.01" y1="370.2" x2="652.01" y2="368.8" stroke="#262626" stroke-width="0.6"/>
<line x1="652.01" y1="218" x2="652.01" y2="219.4" stroke="#262626" stroke-width="0.6"/>
<line x1="658.00" y1="370.2" x2="658.00" y2="368.8" stroke="#262626" stroke-width="0.6"/>
<line x1="658.00" y1="218" x2="658.00" y2="219.4" stroke="#262626" stroke-width="0.6"/>
<line x1="662.89" y1="370.2" x2="662.89" y2="368.8" stroke="#262626" stroke-width="0.6"/>
<line x1="662.89" y1="218" x2="662.89" y2="219.4" stroke="#262626" stroke-width="0.6"/>
<line x1="667.03" y1="370.2" x2="667.03" y2="368.8" stroke="#262626" stroke-width="0.6"/>
<line x1="667.03" y1="218" x2="667.03" y2="219.4" stroke="#262626" stroke-width="0.6"/>
<line x1="670.61" y1="370.2" x2="670.61" y2="368.8" stroke="#262626" stroke-width="0.6"/>
<line x1="670.61" y1="218" x2="670.61" y2="219.4" stroke="#262626" stroke-width="0.6"/>
<line x1="673.77" y1="370.2" x2="673.77" y2="368.8" stroke="#262626" stroke-width="0.6"/>
<line x1="673.77" y1="218" x2="673.77" y2="219.4" stroke="#262626" stroke-width="0.6"/>
<line x1="491.2" y1="347.29" x2="492.59999999999997" y2="347.29" stroke="#262626" stroke-width="0.6"/>
<line x1="676.6" y1="347.29" x2="675.2" y2="347.29" stroke="#262626" stroke-width="0.6"/>
<line x1="491.2" y1="333.89" x2="492.59999999999997" y2="333.89" stroke="#262626" stroke-width="0.6"/>
<line x1="676.6" y1="333.89" x2="675.2" y2="333.89" stroke="#262626" stroke-width="0.6"/>
<line x1="491.2" y1="324.38" x2="492.59999999999997" y2="324.38" stroke="#262626" stroke-width="0.6"/>
<line x1="676.6" y1="324.38" x2="675.2" y2="324.38" stroke="#262626" stroke-width="0.6"/>
<line x1="491.2" y1="317.01" x2="492.59999999999997" y2="317.01" stroke="#262626" stroke-width="0.6"/>
<line x1="676.6" y1="317.01" x2="675.2" y2="317.01" stroke="#262626" stroke-width="0.6"/>
<line x1="491.2" y1="310.98" x2="492.59999999999997" y2="310.98" stroke="#262626" stroke-width="0.6"/>
<line x1="676.6" y1="310.98" x2="675.2" y2="310.98" stroke="#262626" stroke-width="0.6"/>
<line x1="491.2" y1="305.89" x2="492.59999999999997" y2="305.89" stroke="#262626" stroke-width="0.6"/>
<line x1="676.6" y1="305.89" x2="675.2" y2="305.89" stroke="#262626" stroke-width="0.6"/>
<line x1="491.2" y1="301.47" x2="492.59999999999997" y2="301.47" stroke="#262626" stroke-width="0.6"/>
<line x1="676.6" y1="301.47" x2="675.2" y2="301.47" stroke="#262626" stroke-width="0.6"/>
<line x1="491.2" y1="297.58" x2="492.59999999999997" y2="297.58" stroke="#262626" stroke-width="0.6"/>
<line x1="676.6" y1="297.58" x2="675.2" y2="297.58" stroke="#262626" stroke-width="0.6"/>
<line x1="491.2" y1="294.10" x2="493.59999999999997" y2="294.10" stroke="#262626" stroke-width="0.6"/>
<line x1="676.6" y1="294.10" x2="674.2" y2="294.10" stroke="#262626" stroke-width="0.6"/>
<line x1="491.2" y1="271.19" x2="492.59999999999997" y2="271.19" stroke="#262626" stroke-width="0.6"/>
<line x1="676.6" y1="271.19" x2="675.2" y2="271.19" stroke="#262626" stroke-width="0.6"/>
<line x1="491.2" y1="257.79" x2="492.59999999999997" y2="257.79" stroke="#262626" stroke-width="0.6"/>
<line x1="676.6" y1="257.79" x2="675.2" y2="257.79" stroke="#262626" stroke-width="0.6"/>
<line x1="491.2" y1="248.28" x2="492.59999999999997" y2="248.28" stroke="#262626" stroke-width="0.6"/>
<line x1="676.6" y1="248.28" x2="675.2" y2="248.28" stroke="#262626" stroke-width="0.6"/>
<line x1="491.2" y1="240.91" x2="492.59999999999997" y2="240.91" stroke="#262626" stroke-width="0.6"/>
<line x1="676.6" y1="240.91" x2="675.2" y2="240.91" stroke="#262626" stroke-width="0.6"/>
<line x1="491.2" y1="234.88" x2="492.59999999999997" y2="234.88" stroke="#262626" stroke-width="0.6"/>
<line x1="676.6" y1="234.88" x2="675.2" y2="234.88" stroke="#262626" stroke-width="0.6"/>
<line x1="491.2" y1="229.79" x2="492.59999999999997" y2="229.79" stroke="#262626" stroke-width="0.6"/>
<line x1="676.6" y1="229.79" x2="675.2" y2="229.79" stroke="#262626" stroke-width="0.6"/>
<line x1="491.2" y1="225.37" x2="492.59999999999997" y2="225.37" stroke="#262626" stroke-width="0.6"/>
<line x1="676.6" y1="225.37" x2="675.2" y2="225.37" stroke="#262626" stroke-width="0.6"/>
<line x1="491.2" y1="221.48" x2="492.59999999999997" y2="221.48" stroke="#262626" stroke-width="0.6"/>
<line x1="676.6" y1="221.48" x2="675.2" y2="221.48" stroke="#262626" stroke-width="0.6"/>
<text x="491.50" y="383.00" font-family='"Liberation Serif", serif' font-size="11" text-anchor="middle" fill="#1a1a1a">10<tspan font-size="7.7" dy="-4">0</tspan></text>
<text x="553.30" y="383.00" font-family='"Liberation Serif", serif' font-size="11" text-anchor="middle" fill="#1a1a1a">10<tspan font-size="7.7" dy="-4">1</tspan></text>
<text x="615.10" y="383.00" font-family='"Liberation Serif", serif' font-size="11" text-anchor="middle" fill="#1a1a1a">10<tspan font-size="7.7" dy="-4">2</tspan></text>
<text x="676.90" y="383.00" font-family='"Liberation Serif", serif' font-size="11" text-anchor="middle" fill="#1a1a1a">10<tspan font-size="7.7" dy="-4">3</tspan></text>
<text x="488.10" y="373.60" font-family='"Liberation Serif", serif' font-size="11" text-anchor="end" fill="#1a1a1a">10<tspan font-size="7.7" dy="-4">−1</tspan></text>
<text x="488.10" y="297.50" font-family='"Liberation Serif", serif' font-size="11" text-anchor="end" fill="#1a1a1a">10<tspan font-size="7.7" dy="-4">0</tspan></text>
<text x="488.10" y="221.40" font-family='"Liberation Serif", serif' font-size="11" text-anchor="end" fill="#1a1a1a">10<tspan font-size="7.7" dy="-4">1</tspan></text>
<g transform="translate(584.00,397.70) rotate(0)">
<text x="-2.02" y="0.00" font-family='"Liberation Serif", serif' font-size="12.40" font-style="italic" text-anchor="middle" fill="#1a1a1a">η</text>
<text x="3.08" y="2.48" font-family='"Liberation Serif", serif' font-size="8.68" font-style="italic" text-anchor="middle" fill="#1a1a1a">e</text>
</g>
<g transform="translate(466.00,295.60) rotate(-90)">
<text x="-21.82" y="0.00" font-family='"Liberation Serif", serif' font-size="12.40" font-style="italic" text-anchor="middle" fill="#1a1a1a">δ</text>
<text x="-15.96" y="0.00" font-family='"Liberation Serif", serif' font-size="12.40" font-style="normal" text-anchor="middle" fill="#1a1a1a">/</text>
<text x="-7.73" y="0.00" font-family='"Liberation Serif", serif' font-size="12.40" font-style="italic" text-anchor="middle" fill="#1a1a1a">D</text>
<text x="-0.57" y="2.48" font-family='"Liberation Serif", serif' font-size="8.68" font-style="italic" text-anchor="middle" fill="#1a1a1a">e</text>
<text x="7.46" y="0.00" font-family='"Liberation Serif", serif' font-size="12.40" font-style="italic" text-anchor="middle" fill="#1a1a1a">M</text>
<text x="15.50" y="2.48" font-family='"Liberation Serif", serif' font-size="8.68" font-style="italic" text-anchor="middle" fill="#1a1a1a">e</text>
<text x="16.85" y="-4.71" font-family='"Liberation Serif", serif' font-size="8.68" font-style="normal" text-anchor="middle" fill="#1a1a1a">−</text>
<text x="22.40" y="-4.71" font-family='"Liberation Serif", serif' font-size="8.68" font-style="normal" text-anchor="middle" fill="#1a1a1a">1</text>
</g>
<line x1="509.9" y1="290" x2="644.2" y2="262.6" stroke="#111" stroke-width="1.1"/>
<text x="563" y="272" font-family='"Liberation Sans", sans-serif' font-size="13" text-anchor="middle" fill="#111" letter-spacing="0.5">1/6</text>
<line x1="510.20" y1="303.10" x2="510.20" y2="320.00" stroke="#7e2f8e" stroke-width="0.9"/>
<line x1="509.20" y1="303.10" x2="511.20" y2="303.10" stroke="#7e2f8e" stroke-width="0.9"/>
<line x1="509.20" y1="320.00" x2="511.20" y2="320.00" stroke="#7e2f8e" stroke-width="0.9"/>
<circle cx="510.20" cy="312.00" r="2.6" fill="none" stroke="#7e2f8e" stroke-width="0.9"/>
<line x1="510.20" y1="306.00" x2="510.20" y2="325.00" stroke="#7e2f8e" stroke-width="0.9"/>
<line x1="509.20" y1="306.00" x2="511.20" y2="306.00" stroke="#7e2f8e" stroke-width="0.9"/>
<line x1="509.20" y1="325.00" x2="511.20" y2="325.00" stroke="#7e2f8e" stroke-width="0.9"/>
<circle cx="510.20" cy="315.70" r="2.6" fill="none" stroke="#7e2f8e" stroke-width="0.9"/>
<line x1="510.20" y1="309.00" x2="510.20" y2="330.00" stroke="#7e2f8e" stroke-width="0.9"/>
<line x1="509.20" y1="309.00" x2="511.20" y2="309.00" stroke="#7e2f8e" stroke-width="0.9"/>
<line x1="509.20" y1="330.00" x2="511.20" y2="330.00" stroke="#7e2f8e" stroke-width="0.9"/>
<circle cx="510.20" cy="319.00" r="2.6" fill="none" stroke="#7e2f8e" stroke-width="0.9"/>
<line x1="510.20" y1="314.00" x2="510.20" y2="332.80" stroke="#7e2f8e" stroke-width="0.9"/>
<line x1="509.20" y1="314.00" x2="511.20" y2="314.00" stroke="#7e2f8e" stroke-width="0.9"/>
<line x1="509.20" y1="332.80" x2="511.20" y2="332.80" stroke="#7e2f8e" stroke-width="0.9"/>
<circle cx="510.20" cy="324.30" r="2.6" fill="none" stroke="#7e2f8e" stroke-width="0.9"/>
<line x1="528.50" y1="303.80" x2="528.50" y2="326.90" stroke="#7e2f8e" stroke-width="0.9"/>
<line x1="527.50" y1="303.80" x2="529.50" y2="303.80" stroke="#7e2f8e" stroke-width="0.9"/>
<line x1="527.50" y1="326.90" x2="529.50" y2="326.90" stroke="#7e2f8e" stroke-width="0.9"/>
<circle cx="528.50" cy="312.00" r="2.6" fill="none" stroke="#7e2f8e" stroke-width="0.9"/>
<line x1="528.50" y1="305.00" x2="528.50" y2="322.00" stroke="#7e2f8e" stroke-width="0.9"/>
<line x1="527.50" y1="305.00" x2="529.50" y2="305.00" stroke="#7e2f8e" stroke-width="0.9"/>
<line x1="527.50" y1="322.00" x2="529.50" y2="322.00" stroke="#7e2f8e" stroke-width="0.9"/>
<circle cx="528.50" cy="312.70" r="2.6" fill="none" stroke="#7e2f8e" stroke-width="0.9"/>
<line x1="527.80" y1="306.00" x2="527.80" y2="318.00" stroke="#7e2f8e" stroke-width="0.9"/>
<line x1="526.80" y1="306.00" x2="528.80" y2="306.00" stroke="#7e2f8e" stroke-width="0.9"/>
<line x1="526.80" y1="318.00" x2="528.80" y2="318.00" stroke="#7e2f8e" stroke-width="0.9"/>
<circle cx="527.80" cy="311.50" r="2.6" fill="none" stroke="#7e2f8e" stroke-width="0.9"/>
<line x1="529.20" y1="307.00" x2="529.20" y2="320.00" stroke="#7e2f8e" stroke-width="0.9"/>
<line x1="528.20" y1="307.00" x2="530.20" y2="307.00" stroke="#7e2f8e" stroke-width="0.9"/>
<line x1="528.20" y1="320.00" x2="530.20" y2="320.00" stroke="#7e2f8e" stroke-width="0.9"/>
<circle cx="529.20" cy="313.50" r="2.6" fill="none" stroke="#7e2f8e" stroke-width="0.9"/>
<line x1="524.30" y1="302.50" x2="524.30" y2="307.50" stroke="#3d9a50" stroke-width="0.9"/>
<line x1="523.30" y1="302.50" x2="525.30" y2="302.50" stroke="#3d9a50" stroke-width="0.9"/>
<line x1="523.30" y1="307.50" x2="525.30" y2="307.50" stroke="#3d9a50" stroke-width="0.9"/>
<circle cx="524.30" cy="305.00" r="2.6" fill="none" stroke="#3d9a50" stroke-width="0.9"/>
<line x1="534.00" y1="309.00" x2="534.00" y2="315.70" stroke="#3d9a50" stroke-width="0.9"/>
<line x1="533.00" y1="309.00" x2="535.00" y2="309.00" stroke="#3d9a50" stroke-width="0.9"/>
<line x1="533.00" y1="315.70" x2="535.00" y2="315.70" stroke="#3d9a50" stroke-width="0.9"/>
<circle cx="534.00" cy="312.00" r="2.6" fill="none" stroke="#3d9a50" stroke-width="0.9"/>
<line x1="548.00" y1="300.20" x2="548.00" y2="310.50" stroke="#3d9a50" stroke-width="0.9"/>
<line x1="547.00" y1="300.20" x2="549.00" y2="300.20" stroke="#3d9a50" stroke-width="0.9"/>
<line x1="547.00" y1="310.50" x2="549.00" y2="310.50" stroke="#3d9a50" stroke-width="0.9"/>
<circle cx="548.00" cy="305.40" r="2.6" fill="none" stroke="#3d9a50" stroke-width="0.9"/>
<line x1="554.90" y1="299.90" x2="554.90" y2="313.20" stroke="#3d9a50" stroke-width="0.9"/>
<line x1="553.90" y1="299.90" x2="555.90" y2="299.90" stroke="#3d9a50" stroke-width="0.9"/>
<line x1="553.90" y1="313.20" x2="555.90" y2="313.20" stroke="#3d9a50" stroke-width="0.9"/>
<circle cx="554.90" cy="305.80" r="2.6" fill="none" stroke="#3d9a50" stroke-width="0.9"/>
<line x1="562.30" y1="295.00" x2="562.30" y2="309.90" stroke="#3d9a50" stroke-width="0.9"/>
<line x1="561.30" y1="295.00" x2="563.30" y2="295.00" stroke="#3d9a50" stroke-width="0.9"/>
<line x1="561.30" y1="309.90" x2="563.30" y2="309.90" stroke="#3d9a50" stroke-width="0.9"/>
<circle cx="562.30" cy="301.20" r="2.6" fill="none" stroke="#3d9a50" stroke-width="0.9"/>
<line x1="569.40" y1="298.00" x2="569.40" y2="308.60" stroke="#3d9a50" stroke-width="0.9"/>
<line x1="568.40" y1="298.00" x2="570.40" y2="298.00" stroke="#3d9a50" stroke-width="0.9"/>
<line x1="568.40" y1="308.60" x2="570.40" y2="308.60" stroke="#3d9a50" stroke-width="0.9"/>
<circle cx="569.40" cy="303.00" r="2.6" fill="none" stroke="#3d9a50" stroke-width="0.9"/>
<line x1="591.00" y1="283.10" x2="591.00" y2="298.00" stroke="#7e2f8e" stroke-width="0.9"/>
<line x1="590.00" y1="283.10" x2="592.00" y2="283.10" stroke="#7e2f8e" stroke-width="0.9"/>
<line x1="590.00" y1="298.00" x2="592.00" y2="298.00" stroke="#7e2f8e" stroke-width="0.9"/>
<circle cx="591.00" cy="290.00" r="2.6" fill="none" stroke="#7e2f8e" stroke-width="0.9"/>
<line x1="593.00" y1="285.00" x2="593.00" y2="300.00" stroke="#7e2f8e" stroke-width="0.9"/>
<line x1="592.00" y1="285.00" x2="594.00" y2="285.00" stroke="#7e2f8e" stroke-width="0.9"/>
<line x1="592.00" y1="300.00" x2="594.00" y2="300.00" stroke="#7e2f8e" stroke-width="0.9"/>
<circle cx="593.00" cy="293.00" r="2.6" fill="none" stroke="#7e2f8e" stroke-width="0.9"/>
<line x1="595.00" y1="287.00" x2="595.00" y2="304.00" stroke="#7e2f8e" stroke-width="0.9"/>
<line x1="594.00" y1="287.00" x2="596.00" y2="287.00" stroke="#7e2f8e" stroke-width="0.9"/>
<line x1="594.00" y1="304.00" x2="596.00" y2="304.00" stroke="#7e2f8e" stroke-width="0.9"/>
<circle cx="595.00" cy="296.00" r="2.6" fill="none" stroke="#7e2f8e" stroke-width="0.9"/>
<line x1="592.00" y1="290.00" x2="592.00" y2="306.00" stroke="#7e2f8e" stroke-width="0.9"/>
<line x1="591.00" y1="290.00" x2="593.00" y2="290.00" stroke="#7e2f8e" stroke-width="0.9"/>
<line x1="591.00" y1="306.00" x2="593.00" y2="306.00" stroke="#7e2f8e" stroke-width="0.9"/>
<circle cx="592.00" cy="298.00" r="2.6" fill="none" stroke="#7e2f8e" stroke-width="0.9"/>
<line x1="594.00" y1="292.00" x2="594.00" y2="310.00" stroke="#7e2f8e" stroke-width="0.9"/>
<line x1="593.00" y1="292.00" x2="595.00" y2="292.00" stroke="#7e2f8e" stroke-width="0.9"/>
<line x1="593.00" y1="310.00" x2="595.00" y2="310.00" stroke="#7e2f8e" stroke-width="0.9"/>
<circle cx="594.00" cy="300.00" r="2.6" fill="none" stroke="#7e2f8e" stroke-width="0.9"/>
<line x1="596.50" y1="285.00" x2="596.50" y2="302.00" stroke="#7e2f8e" stroke-width="0.9"/>
<line x1="595.50" y1="285.00" x2="597.50" y2="285.00" stroke="#7e2f8e" stroke-width="0.9"/>
<line x1="595.50" y1="302.00" x2="597.50" y2="302.00" stroke="#7e2f8e" stroke-width="0.9"/>
<circle cx="596.50" cy="292.00" r="2.6" fill="none" stroke="#7e2f8e" stroke-width="0.9"/>
<line x1="593.50" y1="294.00" x2="593.50" y2="312.30" stroke="#7e2f8e" stroke-width="0.9"/>
<line x1="592.50" y1="294.00" x2="594.50" y2="294.00" stroke="#7e2f8e" stroke-width="0.9"/>
<line x1="592.50" y1="312.30" x2="594.50" y2="312.30" stroke="#7e2f8e" stroke-width="0.9"/>
<circle cx="593.50" cy="301.50" r="2.6" fill="none" stroke="#7e2f8e" stroke-width="0.9"/>
<line x1="597.00" y1="288.00" x2="597.00" y2="303.00" stroke="#7e2f8e" stroke-width="0.9"/>
<line x1="596.00" y1="288.00" x2="598.00" y2="288.00" stroke="#7e2f8e" stroke-width="0.9"/>
<line x1="596.00" y1="303.00" x2="598.00" y2="303.00" stroke="#7e2f8e" stroke-width="0.9"/>
<circle cx="597.00" cy="295.00" r="2.6" fill="none" stroke="#7e2f8e" stroke-width="0.9"/>
<line x1="627.40" y1="295.60" x2="627.40" y2="303.00" stroke="#7e2f8e" stroke-width="0.9"/>
<line x1="626.40" y1="295.60" x2="628.40" y2="295.60" stroke="#7e2f8e" stroke-width="0.9"/>
<line x1="626.40" y1="303.00" x2="628.40" y2="303.00" stroke="#7e2f8e" stroke-width="0.9"/>
<circle cx="627.40" cy="298.70" r="2.6" fill="none" stroke="#7e2f8e" stroke-width="0.9"/>
<line x1="631.20" y1="288.10" x2="631.20" y2="301.20" stroke="#7e2f8e" stroke-width="0.9"/>
<line x1="630.20" y1="288.10" x2="632.20" y2="288.10" stroke="#7e2f8e" stroke-width="0.9"/>
<line x1="630.20" y1="301.20" x2="632.20" y2="301.20" stroke="#7e2f8e" stroke-width="0.9"/>
<circle cx="631.20" cy="294.60" r="2.6" fill="none" stroke="#7e2f8e" stroke-width="0.9"/>
<line x1="634.50" y1="288.10" x2="634.50" y2="299.90" stroke="#7e2f8e" stroke-width="0.9"/>
<line x1="633.50" y1="288.10" x2="635.50" y2="288.10" stroke="#7e2f8e" stroke-width="0.9"/>
<line x1="633.50" y1="299.90" x2="635.50" y2="299.90" stroke="#7e2f8e" stroke-width="0.9"/>
<circle cx="634.50" cy="293.70" r="2.6" fill="none" stroke="#7e2f8e" stroke-width="0.9"/>
<line x1="639.50" y1="287.20" x2="639.50" y2="300.20" stroke="#7e2f8e" stroke-width="0.9"/>
<line x1="638.50" y1="287.20" x2="640.50" y2="287.20" stroke="#7e2f8e" stroke-width="0.9"/>
<line x1="638.50" y1="300.20" x2="640.50" y2="300.20" stroke="#7e2f8e" stroke-width="0.9"/>
<circle cx="639.50" cy="292.80" r="2.6" fill="none" stroke="#7e2f8e" stroke-width="0.9"/>
<line x1="644.20" y1="292.40" x2="644.20" y2="301.20" stroke="#7e2f8e" stroke-width="0.9"/>
<line x1="643.20" y1="292.40" x2="645.20" y2="292.40" stroke="#7e2f8e" stroke-width="0.9"/>
<line x1="643.20" y1="301.20" x2="645.20" y2="301.20" stroke="#7e2f8e" stroke-width="0.9"/>
<circle cx="644.20" cy="296.50" r="2.6" fill="none" stroke="#7e2f8e" stroke-width="0.9"/>
<circle cx="592.8" cy="342.5" r="2.6" fill="none" stroke="#7e2f8e" stroke-width="0.9"/>
<circle cx="592.8" cy="356.5" r="2.6" fill="none" stroke="#3d9a50" stroke-width="0.9"/>
<text x="599.00" y="346.20" font-family='"Liberation Serif", serif' font-size="12.6" text-anchor="start" fill="#111" font-style="normal" font-weight="normal" >Current Study</text>
<text x="599.00" y="359.80" font-family='"Liberation Serif", serif' font-size="12.45" text-anchor="start" fill="#111" font-style="normal" font-weight="normal" >Inman (2009)</text>
</svg></body></html>
